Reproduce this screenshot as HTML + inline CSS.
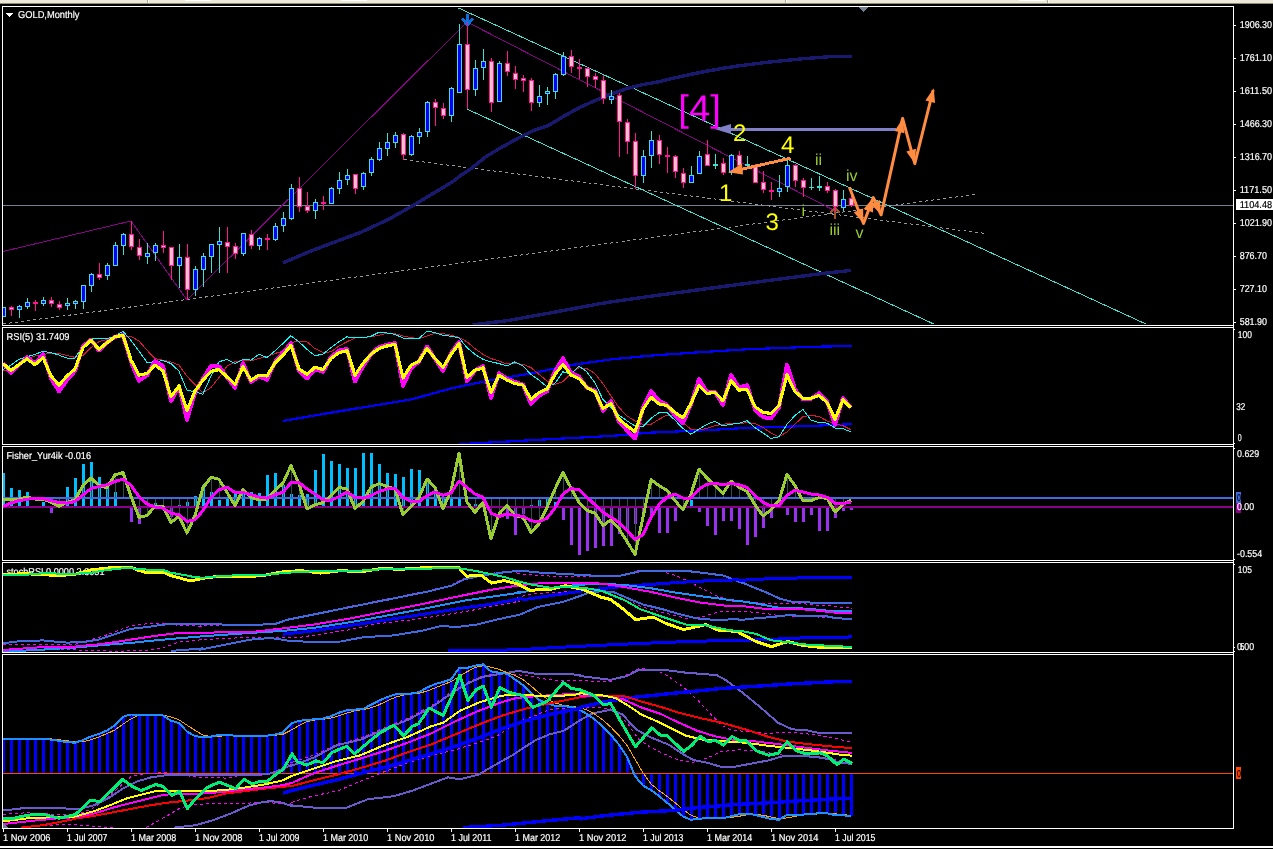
<!DOCTYPE html>
<html><head><meta charset="utf-8"><title>GOLD,Monthly</title>
<style>html,body{margin:0;padding:0;background:#000;overflow:hidden}svg{display:block}text{font-family:"Liberation Sans",sans-serif;white-space:pre;text-rendering:geometricPrecision}</style>
</head><body>
<svg width="1273" height="849" viewBox="0 0 1273 849" style="will-change:transform">
<rect x="0" y="0" width="1273" height="849" fill="#000000"/>
<rect x="0" y="0" width="1273" height="3" fill="#ECE9D8"/>
<rect x="0" y="3" width="1273" height="1" fill="#8f8c7a"/>
<rect x="185" y="0" width="26" height="1" fill="#ffffff"/>
<rect x="341" y="0" width="26" height="1" fill="#ffffff"/>
<rect x="1019" y="0" width="26" height="1" fill="#ffffff"/>
<rect x="147" y="0" width="1" height="3" fill="#aca899"/>
<rect x="148" y="0" width="1" height="3" fill="#ffffff"/>
<rect x="785" y="0" width="1" height="3" fill="#aca899"/>
<rect x="786" y="0" width="1" height="3" fill="#ffffff"/>
<rect x="1047" y="0" width="1" height="3" fill="#aca899"/>
<rect x="1048" y="0" width="1" height="3" fill="#ffffff"/>
<rect x="0" y="846" width="1273" height="2" fill="#ffffff"/>
<defs>
<clipPath id="c1"><rect x="3" y="7" width="1230" height="318"/></clipPath>
<clipPath id="c2"><rect x="3" y="328" width="1230" height="116"/></clipPath>
<clipPath id="c3"><rect x="3" y="447" width="1230" height="113"/></clipPath>
<clipPath id="c4"><rect x="3" y="563" width="1230" height="89"/></clipPath>
<clipPath id="c5"><rect x="3" y="655" width="1230" height="173"/></clipPath>
</defs>
<g clip-path="url(#c1)">
<rect x="3" y="205" width="1230" height="1" fill="#708090"/>
<polyline points="3.0,324.0 977.7,194.1" fill="none" stroke="#989898" stroke-width="1" stroke-linejoin="round" stroke-dasharray="3 3" shape-rendering="crispEdges"/>
<polyline points="404.0,159.5 987.2,233.7" fill="none" stroke="#989898" stroke-width="1" stroke-linejoin="round" stroke-dasharray="3 3" shape-rendering="crispEdges"/>
<polyline points="3.0,251.5 131.0,221.0 187.0,300.0 467.0,22.0 835.0,210.8" fill="none" stroke="#8B008B" stroke-width="1" stroke-linejoin="round" shape-rendering="crispEdges"/>
<polyline points="458.5,8.0 1146.3,324.2" fill="none" stroke="#40E0D0" stroke-width="1" stroke-linejoin="round" shape-rendering="crispEdges"/>
<polyline points="467.5,109.3 934.2,324.2" fill="none" stroke="#40E0D0" stroke-width="1" stroke-linejoin="round" shape-rendering="crispEdges"/>
<polyline points="283.1,262.9 311.4,250.8 342.8,239.0 361.7,231.9 390.0,218.6 413.5,205.2 437.1,191.1 452.8,181.6 460.7,175.4 470.0,169.4 485.7,156.8 501.4,147.4 517.1,138.8 532.8,130.9 548.6,125.4 564.3,116.0 580.0,107.3 595.7,100.3 611.4,94.0 627.1,88.5 642.8,84.6 660.0,81.6 675.7,77.7 691.4,74.2 707.1,71.1 722.8,68.3 738.6,65.9 754.3,63.9 770.0,62.0 785.7,60.4 801.4,58.9 817.1,57.6 832.8,56.5 851.7,56.2" fill="none" stroke="#191970" stroke-width="3.4" stroke-linejoin="round" shape-rendering="crispEdges"/>
<polyline points="472.6,324.8 507.1,320.7 554.3,312.2 601.4,303.4 648.5,296.5 695.7,290.2 742.8,283.9 789.9,277.7 821.4,273.6 851.2,270.4" fill="none" stroke="#191970" stroke-width="3.4" stroke-linejoin="round" shape-rendering="crispEdges"/>
<g fill="none" stroke="#0A6EDC" stroke-width="3" shape-rendering="crispEdges"><path d="M467.5 14V25M462.5 18.5l5 6.5l5-6.5"/></g>
<g fill="none" stroke="#A0522D" stroke-width="2.4" shape-rendering="crispEdges"><path d="M835 208V219M830 213l5-5l5 5"/></g>
<rect x="3" y="307" width="1" height="10" fill="#40E0D0"/>
<rect x="1" y="307" width="5" height="10" fill="#40E0D0"/>
<rect x="2" y="308" width="3" height="8" fill="#0000FF"/>
<rect x="11" y="306" width="1" height="10" fill="#FF1493"/>
<rect x="9" y="307" width="5" height="3" fill="#FF1493"/>
<rect x="10" y="308" width="3" height="1" fill="#FFC0CB"/>
<rect x="19" y="305" width="1" height="13" fill="#40E0D0"/>
<rect x="17" y="306" width="5" height="4" fill="#40E0D0"/>
<rect x="18" y="307" width="3" height="2" fill="#0000FF"/>
<rect x="27" y="298" width="1" height="11" fill="#40E0D0"/>
<rect x="25" y="302" width="5" height="5" fill="#40E0D0"/>
<rect x="26" y="303" width="3" height="3" fill="#0000FF"/>
<rect x="35" y="300" width="1" height="11" fill="#FF1493"/>
<rect x="33" y="302" width="5" height="2" fill="#FF1493"/>
<rect x="43" y="297" width="1" height="9" fill="#40E0D0"/>
<rect x="41" y="300" width="5" height="4" fill="#40E0D0"/>
<rect x="42" y="301" width="3" height="2" fill="#0000FF"/>
<rect x="51" y="297" width="1" height="10" fill="#FF1493"/>
<rect x="49" y="300" width="5" height="4" fill="#FF1493"/>
<rect x="50" y="301" width="3" height="2" fill="#FFC0CB"/>
<rect x="59" y="301" width="1" height="9" fill="#FF1493"/>
<rect x="57" y="304" width="5" height="4" fill="#FF1493"/>
<rect x="58" y="305" width="3" height="2" fill="#FFC0CB"/>
<rect x="67" y="298" width="1" height="12" fill="#40E0D0"/>
<rect x="65" y="303" width="5" height="3" fill="#40E0D0"/>
<rect x="66" y="304" width="3" height="1" fill="#0000FF"/>
<rect x="75" y="300" width="1" height="9" fill="#40E0D0"/>
<rect x="73" y="301" width="5" height="3" fill="#40E0D0"/>
<rect x="74" y="302" width="3" height="1" fill="#0000FF"/>
<rect x="83" y="285" width="1" height="24" fill="#40E0D0"/>
<rect x="81" y="285" width="5" height="17" fill="#40E0D0"/>
<rect x="82" y="286" width="3" height="15" fill="#0000FF"/>
<rect x="91" y="273" width="1" height="19" fill="#40E0D0"/>
<rect x="89" y="274" width="5" height="12" fill="#40E0D0"/>
<rect x="90" y="275" width="3" height="10" fill="#0000FF"/>
<rect x="99" y="263" width="1" height="17" fill="#FF1493"/>
<rect x="97" y="274" width="5" height="4" fill="#FF1493"/>
<rect x="98" y="275" width="3" height="2" fill="#FFC0CB"/>
<rect x="107" y="263" width="1" height="17" fill="#40E0D0"/>
<rect x="105" y="265" width="5" height="11" fill="#40E0D0"/>
<rect x="106" y="266" width="3" height="9" fill="#0000FF"/>
<rect x="115" y="242" width="1" height="24" fill="#40E0D0"/>
<rect x="113" y="245" width="5" height="21" fill="#40E0D0"/>
<rect x="114" y="246" width="3" height="19" fill="#0000FF"/>
<rect x="123" y="233" width="1" height="22" fill="#40E0D0"/>
<rect x="121" y="234" width="5" height="12" fill="#40E0D0"/>
<rect x="122" y="235" width="3" height="10" fill="#0000FF"/>
<rect x="131" y="221" width="1" height="29" fill="#FF1493"/>
<rect x="129" y="234" width="5" height="13" fill="#FF1493"/>
<rect x="130" y="235" width="3" height="11" fill="#FFC0CB"/>
<rect x="139" y="239" width="1" height="21" fill="#FF1493"/>
<rect x="137" y="247" width="5" height="9" fill="#FF1493"/>
<rect x="138" y="248" width="3" height="7" fill="#FFC0CB"/>
<rect x="147" y="243" width="1" height="21" fill="#40E0D0"/>
<rect x="145" y="253" width="5" height="4" fill="#40E0D0"/>
<rect x="146" y="254" width="3" height="2" fill="#0000FF"/>
<rect x="155" y="243" width="1" height="18" fill="#40E0D0"/>
<rect x="153" y="245" width="5" height="8" fill="#40E0D0"/>
<rect x="154" y="246" width="3" height="6" fill="#0000FF"/>
<rect x="163" y="231" width="1" height="22" fill="#FF1493"/>
<rect x="161" y="245" width="5" height="3" fill="#FF1493"/>
<rect x="162" y="246" width="3" height="1" fill="#FFC0CB"/>
<rect x="171" y="247" width="1" height="33" fill="#FF1493"/>
<rect x="169" y="247" width="5" height="19" fill="#FF1493"/>
<rect x="170" y="248" width="3" height="17" fill="#FFC0CB"/>
<rect x="179" y="244" width="1" height="44" fill="#40E0D0"/>
<rect x="177" y="257" width="5" height="9" fill="#40E0D0"/>
<rect x="178" y="258" width="3" height="7" fill="#0000FF"/>
<rect x="187" y="244" width="1" height="56" fill="#FF1493"/>
<rect x="185" y="257" width="5" height="33" fill="#FF1493"/>
<rect x="186" y="258" width="3" height="31" fill="#FFC0CB"/>
<rect x="195" y="266" width="1" height="30" fill="#40E0D0"/>
<rect x="193" y="269" width="5" height="21" fill="#40E0D0"/>
<rect x="194" y="270" width="3" height="19" fill="#0000FF"/>
<rect x="203" y="253" width="1" height="34" fill="#40E0D0"/>
<rect x="201" y="256" width="5" height="14" fill="#40E0D0"/>
<rect x="202" y="257" width="3" height="12" fill="#0000FF"/>
<rect x="211" y="244" width="1" height="29" fill="#40E0D0"/>
<rect x="209" y="244" width="5" height="13" fill="#40E0D0"/>
<rect x="210" y="245" width="3" height="11" fill="#0000FF"/>
<rect x="219" y="227" width="1" height="46" fill="#40E0D0"/>
<rect x="217" y="241" width="5" height="4" fill="#40E0D0"/>
<rect x="218" y="242" width="3" height="2" fill="#0000FF"/>
<rect x="227" y="227" width="1" height="46" fill="#FF1493"/>
<rect x="225" y="242" width="5" height="5" fill="#FF1493"/>
<rect x="226" y="243" width="3" height="3" fill="#FFC0CB"/>
<rect x="235" y="243" width="1" height="16" fill="#FF1493"/>
<rect x="233" y="246" width="5" height="8" fill="#FF1493"/>
<rect x="234" y="247" width="3" height="6" fill="#FFC0CB"/>
<rect x="243" y="233" width="1" height="23" fill="#40E0D0"/>
<rect x="241" y="233" width="5" height="21" fill="#40E0D0"/>
<rect x="242" y="234" width="3" height="19" fill="#0000FF"/>
<rect x="251" y="230" width="1" height="19" fill="#FF1493"/>
<rect x="249" y="234" width="5" height="12" fill="#FF1493"/>
<rect x="250" y="235" width="3" height="10" fill="#FFC0CB"/>
<rect x="259" y="237" width="1" height="13" fill="#40E0D0"/>
<rect x="257" y="238" width="5" height="8" fill="#40E0D0"/>
<rect x="258" y="239" width="3" height="6" fill="#0000FF"/>
<rect x="267" y="234" width="1" height="16" fill="#FF1493"/>
<rect x="265" y="238" width="5" height="2" fill="#FF1493"/>
<rect x="275" y="223" width="1" height="18" fill="#40E0D0"/>
<rect x="273" y="226" width="5" height="14" fill="#40E0D0"/>
<rect x="274" y="227" width="3" height="12" fill="#0000FF"/>
<rect x="283" y="212" width="1" height="20" fill="#40E0D0"/>
<rect x="281" y="218" width="5" height="8" fill="#40E0D0"/>
<rect x="282" y="219" width="3" height="6" fill="#0000FF"/>
<rect x="291" y="184" width="1" height="36" fill="#40E0D0"/>
<rect x="289" y="188" width="5" height="31" fill="#40E0D0"/>
<rect x="290" y="189" width="3" height="29" fill="#0000FF"/>
<rect x="299" y="177" width="1" height="35" fill="#FF1493"/>
<rect x="297" y="188" width="5" height="19" fill="#FF1493"/>
<rect x="298" y="189" width="3" height="17" fill="#FFC0CB"/>
<rect x="307" y="192" width="1" height="21" fill="#FF1493"/>
<rect x="305" y="206" width="5" height="5" fill="#FF1493"/>
<rect x="306" y="207" width="3" height="3" fill="#FFC0CB"/>
<rect x="315" y="199" width="1" height="20" fill="#40E0D0"/>
<rect x="313" y="202" width="5" height="9" fill="#40E0D0"/>
<rect x="314" y="203" width="3" height="7" fill="#0000FF"/>
<rect x="323" y="196" width="1" height="14" fill="#FF1493"/>
<rect x="321" y="202" width="5" height="2" fill="#FF1493"/>
<rect x="331" y="187" width="1" height="17" fill="#40E0D0"/>
<rect x="329" y="188" width="5" height="16" fill="#40E0D0"/>
<rect x="330" y="189" width="3" height="14" fill="#0000FF"/>
<rect x="339" y="172" width="1" height="22" fill="#40E0D0"/>
<rect x="337" y="180" width="5" height="9" fill="#40E0D0"/>
<rect x="338" y="181" width="3" height="7" fill="#0000FF"/>
<rect x="347" y="169" width="1" height="16" fill="#40E0D0"/>
<rect x="345" y="175" width="5" height="5" fill="#40E0D0"/>
<rect x="346" y="176" width="3" height="3" fill="#0000FF"/>
<rect x="355" y="174" width="1" height="20" fill="#FF1493"/>
<rect x="353" y="174" width="5" height="15" fill="#FF1493"/>
<rect x="354" y="175" width="3" height="13" fill="#FFC0CB"/>
<rect x="363" y="172" width="1" height="18" fill="#40E0D0"/>
<rect x="361" y="173" width="5" height="14" fill="#40E0D0"/>
<rect x="362" y="174" width="3" height="12" fill="#0000FF"/>
<rect x="371" y="157" width="1" height="19" fill="#40E0D0"/>
<rect x="369" y="159" width="5" height="14" fill="#40E0D0"/>
<rect x="370" y="160" width="3" height="12" fill="#0000FF"/>
<rect x="379" y="142" width="1" height="19" fill="#40E0D0"/>
<rect x="377" y="148" width="5" height="12" fill="#40E0D0"/>
<rect x="378" y="149" width="3" height="10" fill="#0000FF"/>
<rect x="387" y="133" width="1" height="23" fill="#40E0D0"/>
<rect x="385" y="142" width="5" height="7" fill="#40E0D0"/>
<rect x="386" y="143" width="3" height="5" fill="#0000FF"/>
<rect x="395" y="132" width="1" height="16" fill="#40E0D0"/>
<rect x="393" y="135" width="5" height="8" fill="#40E0D0"/>
<rect x="394" y="136" width="3" height="6" fill="#0000FF"/>
<rect x="403" y="133" width="1" height="27" fill="#FF1493"/>
<rect x="401" y="134" width="5" height="21" fill="#FF1493"/>
<rect x="402" y="135" width="3" height="19" fill="#FFC0CB"/>
<rect x="411" y="135" width="1" height="21" fill="#40E0D0"/>
<rect x="409" y="136" width="5" height="19" fill="#40E0D0"/>
<rect x="410" y="137" width="3" height="17" fill="#0000FF"/>
<rect x="419" y="128" width="1" height="16" fill="#40E0D0"/>
<rect x="417" y="132" width="5" height="5" fill="#40E0D0"/>
<rect x="418" y="133" width="3" height="3" fill="#0000FF"/>
<rect x="427" y="101" width="1" height="36" fill="#40E0D0"/>
<rect x="425" y="102" width="5" height="30" fill="#40E0D0"/>
<rect x="426" y="103" width="3" height="28" fill="#0000FF"/>
<rect x="435" y="99" width="1" height="27" fill="#FF1493"/>
<rect x="433" y="102" width="5" height="6" fill="#FF1493"/>
<rect x="434" y="103" width="3" height="4" fill="#FFC0CB"/>
<rect x="443" y="103" width="1" height="16" fill="#FF1493"/>
<rect x="441" y="108" width="5" height="8" fill="#FF1493"/>
<rect x="442" y="109" width="3" height="6" fill="#FFC0CB"/>
<rect x="451" y="87" width="1" height="35" fill="#40E0D0"/>
<rect x="449" y="88" width="5" height="28" fill="#40E0D0"/>
<rect x="450" y="89" width="3" height="26" fill="#0000FF"/>
<rect x="459" y="24" width="1" height="69" fill="#40E0D0"/>
<rect x="457" y="44" width="5" height="49" fill="#40E0D0"/>
<rect x="458" y="45" width="3" height="47" fill="#0000FF"/>
<rect x="467" y="22" width="1" height="87" fill="#FF1493"/>
<rect x="465" y="44" width="5" height="46" fill="#FF1493"/>
<rect x="466" y="45" width="3" height="44" fill="#FFC0CB"/>
<rect x="475" y="60" width="1" height="36" fill="#40E0D0"/>
<rect x="473" y="68" width="5" height="22" fill="#40E0D0"/>
<rect x="474" y="69" width="3" height="20" fill="#0000FF"/>
<rect x="483" y="49" width="1" height="31" fill="#40E0D0"/>
<rect x="481" y="61" width="5" height="7" fill="#40E0D0"/>
<rect x="482" y="62" width="3" height="5" fill="#0000FF"/>
<rect x="491" y="58" width="1" height="54" fill="#FF1493"/>
<rect x="489" y="61" width="5" height="42" fill="#FF1493"/>
<rect x="490" y="62" width="3" height="40" fill="#FFC0CB"/>
<rect x="499" y="61" width="1" height="41" fill="#40E0D0"/>
<rect x="497" y="63" width="5" height="39" fill="#40E0D0"/>
<rect x="498" y="64" width="3" height="37" fill="#0000FF"/>
<rect x="507" y="51" width="1" height="25" fill="#FF1493"/>
<rect x="505" y="63" width="5" height="9" fill="#FF1493"/>
<rect x="506" y="64" width="3" height="7" fill="#FFC0CB"/>
<rect x="515" y="66" width="1" height="23" fill="#FF1493"/>
<rect x="513" y="73" width="5" height="7" fill="#FF1493"/>
<rect x="514" y="74" width="3" height="5" fill="#FFC0CB"/>
<rect x="523" y="75" width="1" height="17" fill="#FF1493"/>
<rect x="521" y="78" width="5" height="3" fill="#FF1493"/>
<rect x="522" y="79" width="3" height="1" fill="#FFC0CB"/>
<rect x="531" y="78" width="1" height="33" fill="#FF1493"/>
<rect x="529" y="80" width="5" height="23" fill="#FF1493"/>
<rect x="530" y="81" width="3" height="21" fill="#FFC0CB"/>
<rect x="539" y="85" width="1" height="22" fill="#40E0D0"/>
<rect x="537" y="96" width="5" height="7" fill="#40E0D0"/>
<rect x="538" y="97" width="3" height="5" fill="#0000FF"/>
<rect x="547" y="87" width="1" height="18" fill="#40E0D0"/>
<rect x="545" y="91" width="5" height="3" fill="#40E0D0"/>
<rect x="546" y="92" width="3" height="1" fill="#0000FF"/>
<rect x="555" y="73" width="1" height="26" fill="#40E0D0"/>
<rect x="553" y="74" width="5" height="18" fill="#40E0D0"/>
<rect x="554" y="75" width="3" height="16" fill="#0000FF"/>
<rect x="563" y="52" width="1" height="24" fill="#40E0D0"/>
<rect x="561" y="56" width="5" height="19" fill="#40E0D0"/>
<rect x="562" y="57" width="3" height="17" fill="#0000FF"/>
<rect x="571" y="50" width="1" height="23" fill="#FF1493"/>
<rect x="569" y="56" width="5" height="11" fill="#FF1493"/>
<rect x="570" y="57" width="3" height="9" fill="#FFC0CB"/>
<rect x="579" y="59" width="1" height="20" fill="#FF1493"/>
<rect x="577" y="67" width="5" height="2" fill="#FF1493"/>
<rect x="587" y="67" width="1" height="20" fill="#FF1493"/>
<rect x="585" y="68" width="5" height="9" fill="#FF1493"/>
<rect x="586" y="69" width="3" height="7" fill="#FFC0CB"/>
<rect x="595" y="73" width="1" height="15" fill="#FF1493"/>
<rect x="593" y="76" width="5" height="4" fill="#FF1493"/>
<rect x="594" y="77" width="3" height="2" fill="#FFC0CB"/>
<rect x="603" y="75" width="1" height="29" fill="#FF1493"/>
<rect x="601" y="80" width="5" height="19" fill="#FF1493"/>
<rect x="602" y="81" width="3" height="17" fill="#FFC0CB"/>
<rect x="611" y="90" width="1" height="14" fill="#40E0D0"/>
<rect x="609" y="96" width="5" height="4" fill="#40E0D0"/>
<rect x="610" y="97" width="3" height="2" fill="#0000FF"/>
<rect x="619" y="93" width="1" height="64" fill="#FF1493"/>
<rect x="617" y="95" width="5" height="27" fill="#FF1493"/>
<rect x="618" y="96" width="3" height="25" fill="#FFC0CB"/>
<rect x="627" y="119" width="1" height="35" fill="#FF1493"/>
<rect x="625" y="122" width="5" height="20" fill="#FF1493"/>
<rect x="626" y="123" width="3" height="18" fill="#FFC0CB"/>
<rect x="635" y="133" width="1" height="56" fill="#FF1493"/>
<rect x="633" y="141" width="5" height="35" fill="#FF1493"/>
<rect x="634" y="142" width="3" height="33" fill="#FFC0CB"/>
<rect x="643" y="150" width="1" height="33" fill="#40E0D0"/>
<rect x="641" y="156" width="5" height="20" fill="#40E0D0"/>
<rect x="642" y="157" width="3" height="18" fill="#0000FF"/>
<rect x="651" y="131" width="1" height="37" fill="#40E0D0"/>
<rect x="649" y="140" width="5" height="16" fill="#40E0D0"/>
<rect x="650" y="141" width="3" height="14" fill="#0000FF"/>
<rect x="659" y="135" width="1" height="29" fill="#FF1493"/>
<rect x="657" y="140" width="5" height="15" fill="#FF1493"/>
<rect x="658" y="141" width="3" height="13" fill="#FFC0CB"/>
<rect x="667" y="147" width="1" height="26" fill="#FF1493"/>
<rect x="665" y="155" width="5" height="2" fill="#FF1493"/>
<rect x="675" y="155" width="1" height="23" fill="#FF1493"/>
<rect x="673" y="156" width="5" height="16" fill="#FF1493"/>
<rect x="674" y="157" width="3" height="14" fill="#FFC0CB"/>
<rect x="683" y="168" width="1" height="20" fill="#FF1493"/>
<rect x="681" y="173" width="5" height="10" fill="#FF1493"/>
<rect x="682" y="174" width="3" height="8" fill="#FFC0CB"/>
<rect x="691" y="166" width="1" height="17" fill="#40E0D0"/>
<rect x="689" y="175" width="5" height="8" fill="#40E0D0"/>
<rect x="690" y="176" width="3" height="6" fill="#0000FF"/>
<rect x="699" y="151" width="1" height="23" fill="#40E0D0"/>
<rect x="697" y="156" width="5" height="18" fill="#40E0D0"/>
<rect x="698" y="157" width="3" height="16" fill="#0000FF"/>
<rect x="707" y="140" width="1" height="26" fill="#FF1493"/>
<rect x="705" y="154" width="5" height="12" fill="#FF1493"/>
<rect x="706" y="155" width="3" height="10" fill="#FFC0CB"/>
<rect x="715" y="154" width="1" height="15" fill="#40E0D0"/>
<rect x="713" y="164" width="5" height="2" fill="#40E0D0"/>
<rect x="723" y="158" width="1" height="17" fill="#FF1493"/>
<rect x="721" y="163" width="5" height="10" fill="#FF1493"/>
<rect x="722" y="164" width="3" height="8" fill="#FFC0CB"/>
<rect x="731" y="154" width="1" height="21" fill="#40E0D0"/>
<rect x="729" y="155" width="5" height="18" fill="#40E0D0"/>
<rect x="730" y="156" width="3" height="16" fill="#0000FF"/>
<rect x="739" y="151" width="1" height="15" fill="#FF1493"/>
<rect x="737" y="155" width="5" height="11" fill="#FF1493"/>
<rect x="738" y="156" width="3" height="9" fill="#FFC0CB"/>
<rect x="747" y="156" width="1" height="11" fill="#40E0D0"/>
<rect x="745" y="164" width="5" height="2" fill="#40E0D0"/>
<rect x="755" y="164" width="1" height="19" fill="#FF1493"/>
<rect x="753" y="165" width="5" height="18" fill="#FF1493"/>
<rect x="754" y="166" width="3" height="16" fill="#FFC0CB"/>
<rect x="763" y="171" width="1" height="22" fill="#FF1493"/>
<rect x="761" y="182" width="5" height="8" fill="#FF1493"/>
<rect x="762" y="183" width="3" height="6" fill="#FFC0CB"/>
<rect x="771" y="182" width="1" height="18" fill="#FF1493"/>
<rect x="769" y="190" width="5" height="2" fill="#FF1493"/>
<rect x="779" y="175" width="1" height="22" fill="#40E0D0"/>
<rect x="777" y="188" width="5" height="4" fill="#40E0D0"/>
<rect x="778" y="189" width="3" height="2" fill="#0000FF"/>
<rect x="787" y="160" width="1" height="32" fill="#40E0D0"/>
<rect x="785" y="165" width="5" height="22" fill="#40E0D0"/>
<rect x="786" y="166" width="3" height="20" fill="#0000FF"/>
<rect x="795" y="164" width="1" height="23" fill="#FF1493"/>
<rect x="793" y="165" width="5" height="16" fill="#FF1493"/>
<rect x="794" y="166" width="3" height="14" fill="#FFC0CB"/>
<rect x="803" y="178" width="1" height="19" fill="#FF1493"/>
<rect x="801" y="180" width="5" height="8" fill="#FF1493"/>
<rect x="802" y="181" width="3" height="6" fill="#FFC0CB"/>
<rect x="811" y="178" width="1" height="12" fill="#40E0D0"/>
<rect x="809" y="187" width="5" height="1" fill="#40E0D0"/>
<rect x="819" y="176" width="1" height="15" fill="#40E0D0"/>
<rect x="817" y="186" width="5" height="2" fill="#40E0D0"/>
<rect x="827" y="182" width="1" height="11" fill="#FF1493"/>
<rect x="825" y="186" width="5" height="5" fill="#FF1493"/>
<rect x="826" y="187" width="3" height="3" fill="#FFC0CB"/>
<rect x="835" y="189" width="1" height="23" fill="#FF1493"/>
<rect x="833" y="190" width="5" height="17" fill="#FF1493"/>
<rect x="834" y="191" width="3" height="15" fill="#FFC0CB"/>
<rect x="843" y="190" width="1" height="21" fill="#40E0D0"/>
<rect x="841" y="199" width="5" height="9" fill="#40E0D0"/>
<rect x="842" y="200" width="3" height="7" fill="#0000FF"/>
<rect x="851" y="195" width="1" height="12" fill="#FF1493"/>
<rect x="849" y="198" width="5" height="8" fill="#FF1493"/>
<rect x="850" y="199" width="3" height="6" fill="#FFC0CB"/>
<rect x="728" y="128" width="168" height="3" fill="#8080C8"/>
<polygon points="714.5,129 731,124 731,134" fill="#8080C8"/>
<text x="678.3" y="121" font-size="37" fill="#FF00FF" text-anchor="start" textLength="42.5" lengthAdjust="spacingAndGlyphs">[4]</text>
<text x="719" y="201" font-size="24" fill="#FFFF00" text-anchor="start">1</text>
<text x="733" y="141" font-size="24" fill="#FFFF00" text-anchor="start">2</text>
<text x="765.5" y="230" font-size="24" fill="#FFFF00" text-anchor="start">3</text>
<text x="781" y="153" font-size="24" fill="#FFFF00" text-anchor="start">4</text>
<text x="815" y="165" font-size="16" fill="#9ACD32" text-anchor="start">ii</text>
<text x="846" y="181" font-size="16" fill="#9ACD32" text-anchor="start">iv</text>
<text x="801.5" y="216" font-size="16" fill="#9ACD32" text-anchor="start">i</text>
<text x="829.5" y="235" font-size="16" fill="#9ACD32" text-anchor="start">iii</text>
<text x="855.5" y="238" font-size="16" fill="#9ACD32" text-anchor="start">v</text>
<polyline points="790.5,158.2 734.0,171.0" fill="none" stroke="#FF8C40" stroke-width="3" stroke-linejoin="round" shape-rendering="crispEdges"/>
<polygon points="728,172.3 742,163.5 743,174.5" fill="#FF8C40"/>
<polyline points="849.4,187.3 863.5,223.5 873.3,197.6 881.1,214.8 902.6,118.4 914.8,163.6 933.2,90.0" fill="none" stroke="#FF8C40" stroke-width="3" stroke-linejoin="round"/>
<polygon points="863.5,223.5 853.8,212.3 863.1,208.6" fill="#FF8C40"/>
<polygon points="873.3,197.6 873.0,212.5 863.7,208.9" fill="#FF8C40"/>
<polygon points="881.1,214.8 870.8,204.1 879.9,200.0" fill="#FF8C40"/>
<polygon points="902.6,118.4 904.4,133.2 894.7,131.0" fill="#FF8C40"/>
<polygon points="914.8,163.6 906.3,151.4 916.0,148.8" fill="#FF8C40"/>
<polygon points="933.7,88.2 935.1,103.0 925.4,100.6" fill="#FF8C40"/>
</g>
<g clip-path="url(#c2)">
<text x="6.5" y="340" font-size="10" fill="#fff" text-anchor="start" textLength="63" lengthAdjust="spacingAndGlyphs" stroke="#fff" stroke-width="0.2">RSI(5) 31.7409</text>
<polyline points="283.3,420.9 333.2,412.3 412.0,399.3 451.0,388.4 490.9,380.1 530.9,373.5 570.9,365.1 612.0,359.3 651.0,355.6 698.9,352.3 746.9,349.3 812.0,346.8 852.0,346.0" fill="none" stroke="#0000FF" stroke-width="2.2" stroke-linejoin="round" shape-rendering="crispEdges"/>
<polyline points="459.1,444.2 533.2,440.1 612.0,435.9 651.0,432.6 698.9,430.6 746.9,427.9 812.0,425.9 852.0,424.2" fill="none" stroke="#0000FF" stroke-width="2.2" stroke-linejoin="round" shape-rendering="crispEdges"/>
<polyline points="3.0,370.6 11.0,369.6 19.0,364.0 27.0,358.5 35.0,356.0 43.0,354.3 51.0,353.5 59.0,353.5 66.9,355.6 74.9,357.3 82.9,355.6 90.9,347.6 98.9,341.8 106.9,339.3 114.9,337.7 122.9,336.8 130.9,336.3 138.9,341.0 146.9,350.1 154.9,358.5 162.9,360.1 170.9,361.8 178.9,365.1 186.8,376.0 194.8,384.3 202.8,392.6 211.0,387.6 219.0,377.6 227.0,366.0 235.0,361.8 243.0,360.1 251.0,361.0 259.0,358.5 266.9,356.8 274.9,353.5 282.9,351.0 290.9,342.7 298.9,341.0 306.9,341.8 314.9,348.5 322.9,352.6 330.9,351.8 338.9,346.0 346.9,341.8 354.9,338.0 362.9,337.3 370.9,336.8 378.9,335.2 386.8,333.5 394.8,333.5 402.8,336.0 411.0,337.7 419.0,338.5 427.0,336.0 435.0,333.5 443.0,333.5 451.0,335.2 459.0,337.3 466.9,341.8 474.9,348.5 482.9,354.3 490.9,358.5 498.9,361.0 506.9,364.0 514.9,363.5 522.9,364.3 530.9,367.6 538.9,374.3 546.9,381.0 554.9,384.3 562.9,381.8 570.9,373.5 578.9,367.6 586.8,368.5 594.8,373.5 602.8,383.5 611.0,395.9 619.0,407.6 627.0,415.9 635.0,420.9 643.0,424.3 651.0,424.3 659.0,419.3 666.9,415.1 674.9,415.9 682.9,422.6 690.9,429.2 698.9,430.1 706.9,428.4 714.9,425.6 722.9,424.3 730.9,423.4 738.9,423.9 746.9,422.6 754.9,423.4 763.0,427.5 771.0,433.0 779.0,436.8 787.1,431.9 795.0,424.2 803.0,416.5 811.0,415.4 819.1,416.5 827.0,420.9 835.0,423.6 843.0,425.8 850.9,429.7" fill="none" stroke="#DC143C" stroke-width="1" stroke-linejoin="round" shape-rendering="crispEdges"/>
<polyline points="3.0,369.6 11.0,365.1 19.0,359.3 27.0,356.8 35.0,354.3 43.0,351.3 51.0,352.6 59.0,355.1 66.9,358.1 74.9,358.1 82.9,346.0 90.9,338.5 98.9,338.5 106.9,339.0 114.9,336.0 122.9,331.3 130.9,340.2 138.9,351.0 146.9,362.3 154.9,361.8 162.9,360.6 170.9,363.5 178.9,371.0 186.8,390.1 194.8,391.8 202.8,394.3 211.0,376.0 219.0,361.8 227.0,359.3 235.0,363.5 243.0,359.3 251.0,360.1 259.0,354.3 266.9,357.6 274.9,351.0 282.9,343.5 290.9,335.7 298.9,341.8 306.9,349.3 314.9,355.6 322.9,354.3 330.9,347.6 338.9,341.8 346.9,336.8 354.9,338.0 362.9,337.7 370.9,336.3 378.9,332.3 386.8,333.0 394.8,334.3 402.8,338.0 411.0,338.5 419.0,338.5 427.0,331.0 435.0,332.7 443.0,335.2 451.0,336.3 459.0,337.7 466.9,347.6 474.9,354.3 482.9,359.3 490.9,361.8 498.9,363.5 506.9,366.0 514.9,361.8 522.9,366.0 530.9,374.3 538.9,380.1 546.9,386.8 554.9,383.5 562.9,371.8 570.9,374.3 578.9,366.0 586.8,371.8 594.8,382.6 602.8,399.3 611.0,407.6 619.0,415.1 627.0,420.9 635.0,425.9 643.0,426.7 651.0,418.4 659.0,412.6 666.9,412.6 674.9,420.1 682.9,428.4 690.9,434.2 698.9,429.2 706.9,424.3 714.9,421.3 722.9,425.9 730.9,424.3 738.9,423.4 746.9,420.6 754.9,427.6 763.0,433.0 771.0,438.5 779.0,436.8 787.1,424.2 795.0,415.4 803.0,409.3 811.0,420.3 819.1,422.5 827.0,423.1 835.0,428.0 843.0,428.6 850.9,431.9" fill="none" stroke="#00FFFF" stroke-width="1" stroke-linejoin="round" shape-rendering="crispEdges"/>
<polyline points="3.0,363.2 11.0,372.8 19.0,365.1 27.0,357.2 35.0,363.3 43.0,354.5 51.0,378.3 59.0,391.3 67.0,380.1 75.0,371.0 83.0,346.1 91.0,339.8 99.0,350.5 107.0,342.6 115.0,336.8 123.0,335.2 131.0,361.8 139.0,380.7 147.0,375.4 155.0,361.2 163.0,366.1 171.0,401.1 179.0,386.1 187.0,419.6 195.0,392.6 203.0,378.6 211.0,366.2 219.0,366.4 227.0,377.2 235.0,387.7 243.0,363.3 251.0,382.1 259.0,376.4 267.0,379.6 275.0,361.9 283.0,352.6 291.0,343.3 299.0,371.0 307.0,378.5 315.0,369.1 323.0,371.9 331.0,356.9 339.0,350.6 347.0,348.8 355.0,381.4 363.0,366.3 371.0,354.2 379.0,347.0 387.0,344.8 395.0,343.2 403.0,385.9 411.0,368.3 419.0,361.6 427.0,346.5 435.0,359.0 443.0,370.8 451.0,353.0 459.0,342.0 467.0,381.2 475.0,370.6 483.0,366.1 491.0,397.8 499.0,373.4 507.0,378.7 515.0,382.1 523.0,384.6 531.0,404.0 539.0,395.7 547.0,391.2 555.0,371.1 563.0,358.4 571.0,373.0 579.0,376.7 587.0,387.8 595.0,390.5 603.0,410.6 611.0,401.0 619.0,421.6 627.0,430.3 635.0,438.4 643.0,407.6 651.0,391.0 659.0,400.8 667.0,405.0 675.0,415.8 683.0,423.2 691.0,404.1 699.0,379.2 707.0,392.2 715.0,392.3 723.0,404.7 731.0,375.2 739.0,387.6 747.0,385.2 755.0,409.4 763.0,417.1 771.0,418.5 779.0,407.3 787.0,364.8 795.0,389.3 803.0,399.4 811.0,398.7 819.0,393.4 827.0,401.8 835.0,424.7 843.0,397.9 851.0,407.9" fill="none" stroke="#FF00FF" stroke-width="4" stroke-linejoin="round" shape-rendering="crispEdges"/>
<polyline points="3.0,363.5 11.0,370.6 19.0,364.6 27.0,359.0 35.0,364.6 43.0,357.6 51.0,376.0 59.0,385.1 67.0,376.0 75.0,369.0 83.0,347.6 91.0,340.2 99.0,349.3 107.0,342.7 115.0,336.8 123.0,335.2 131.0,360.1 139.0,375.1 147.0,373.5 155.0,365.1 163.0,371.0 171.0,396.8 179.0,386.0 187.0,410.9 195.0,391.0 203.0,380.1 211.0,371.3 219.0,369.6 227.0,376.8 235.0,384.3 243.0,366.8 251.0,380.1 259.0,375.1 267.0,376.0 275.0,363.0 283.0,355.1 291.0,345.2 299.0,369.0 307.0,374.3 315.0,367.3 323.0,369.6 331.0,358.5 339.0,352.6 347.0,350.6 355.0,375.1 363.0,363.5 371.0,354.3 379.0,348.5 387.0,346.0 395.0,344.3 403.0,378.0 411.0,365.4 419.0,361.3 427.0,348.5 435.0,358.5 443.0,367.6 451.0,354.3 459.0,343.5 467.0,377.6 475.0,370.1 483.0,368.0 491.0,392.6 499.0,375.1 507.0,380.1 515.0,383.5 523.0,385.1 531.0,399.3 539.0,392.6 547.0,389.0 555.0,374.3 563.0,364.3 571.0,375.1 579.0,378.5 587.0,387.6 595.0,391.8 603.0,408.4 611.0,403.6 619.0,419.3 627.0,425.9 635.0,431.7 643.0,409.3 651.0,397.3 659.0,403.9 667.0,405.6 675.0,412.6 683.0,417.9 691.0,403.4 699.0,385.6 707.0,393.4 715.0,392.3 723.0,400.9 731.0,380.6 739.0,390.1 747.0,389.3 755.0,406.8 763.0,412.3 771.0,413.4 779.0,405.5 787.0,375.0 795.0,391.5 803.0,398.3 811.0,398.3 819.0,395.6 827.0,402.2 835.0,419.2 843.0,400.0 851.0,407.7" fill="none" stroke="#FFFF00" stroke-width="3.2" stroke-linejoin="round" shape-rendering="crispEdges"/>
</g>
<g clip-path="url(#c3)">
<text x="6.5" y="459" font-size="10" fill="#fff" text-anchor="start" textLength="84.5" lengthAdjust="spacingAndGlyphs" stroke="#fff" stroke-width="0.2">Fisher_Yur4ik -0.016</text>
<rect x="2" y="473" width="3" height="34" fill="#00BFFF"/>
<rect x="10" y="488" width="3" height="19" fill="#00BFFF"/>
<rect x="18" y="490" width="3" height="17" fill="#00BFFF"/>
<rect x="26" y="492" width="3" height="15" fill="#00BFFF"/>
<rect x="42" y="502" width="3" height="5" fill="#00BFFF"/>
<rect x="50" y="507" width="3" height="6" fill="#9A30F0"/>
<rect x="66" y="487" width="3" height="20" fill="#00BFFF"/>
<rect x="74" y="478" width="3" height="29" fill="#00BFFF"/>
<rect x="82" y="464" width="3" height="43" fill="#00BFFF"/>
<rect x="90" y="462" width="3" height="45" fill="#00BFFF"/>
<rect x="98" y="477" width="3" height="30" fill="#00BFFF"/>
<rect x="106" y="488" width="3" height="19" fill="#00BFFF"/>
<rect x="114" y="492" width="3" height="15" fill="#00BFFF"/>
<rect x="130" y="507" width="3" height="15" fill="#9A30F0"/>
<rect x="138" y="507" width="3" height="17" fill="#9A30F0"/>
<rect x="154" y="503" width="3" height="4" fill="#00BFFF"/>
<rect x="170" y="507" width="3" height="10" fill="#9A30F0"/>
<rect x="178" y="505" width="3" height="2" fill="#00BFFF"/>
<rect x="186" y="502" width="3" height="5" fill="#00BFFF"/>
<rect x="194" y="496" width="3" height="11" fill="#00BFFF"/>
<rect x="202" y="485" width="3" height="22" fill="#00BFFF"/>
<rect x="210" y="492" width="3" height="15" fill="#00BFFF"/>
<rect x="218" y="500" width="3" height="7" fill="#00BFFF"/>
<rect x="226" y="497" width="3" height="10" fill="#00BFFF"/>
<rect x="234" y="494" width="3" height="13" fill="#00BFFF"/>
<rect x="242" y="494" width="3" height="13" fill="#00BFFF"/>
<rect x="250" y="492" width="3" height="15" fill="#00BFFF"/>
<rect x="258" y="493" width="3" height="14" fill="#00BFFF"/>
<rect x="266" y="475" width="3" height="32" fill="#00BFFF"/>
<rect x="274" y="473" width="3" height="34" fill="#00BFFF"/>
<rect x="282" y="485" width="3" height="22" fill="#00BFFF"/>
<rect x="290" y="494" width="3" height="13" fill="#00BFFF"/>
<rect x="298" y="495" width="3" height="12" fill="#00BFFF"/>
<rect x="306" y="494" width="3" height="13" fill="#00BFFF"/>
<rect x="314" y="470" width="3" height="37" fill="#00BFFF"/>
<rect x="322" y="454" width="3" height="53" fill="#00BFFF"/>
<rect x="330" y="461" width="3" height="46" fill="#00BFFF"/>
<rect x="338" y="464" width="3" height="43" fill="#00BFFF"/>
<rect x="346" y="468" width="3" height="39" fill="#00BFFF"/>
<rect x="354" y="468" width="3" height="39" fill="#00BFFF"/>
<rect x="362" y="453" width="3" height="54" fill="#00BFFF"/>
<rect x="370" y="453" width="3" height="54" fill="#00BFFF"/>
<rect x="378" y="464" width="3" height="43" fill="#00BFFF"/>
<rect x="386" y="473" width="3" height="34" fill="#00BFFF"/>
<rect x="394" y="474" width="3" height="33" fill="#00BFFF"/>
<rect x="402" y="477" width="3" height="30" fill="#00BFFF"/>
<rect x="410" y="469" width="3" height="38" fill="#00BFFF"/>
<rect x="418" y="470" width="3" height="37" fill="#00BFFF"/>
<rect x="426" y="482" width="3" height="25" fill="#00BFFF"/>
<rect x="434" y="489" width="3" height="18" fill="#00BFFF"/>
<rect x="442" y="498" width="3" height="9" fill="#00BFFF"/>
<rect x="450" y="498" width="3" height="9" fill="#00BFFF"/>
<rect x="458" y="498" width="3" height="9" fill="#00BFFF"/>
<rect x="474" y="504" width="3" height="3" fill="#00BFFF"/>
<rect x="506" y="507" width="3" height="12" fill="#9A30F0"/>
<rect x="514" y="507" width="3" height="28" fill="#9A30F0"/>
<rect x="522" y="507" width="3" height="7" fill="#9A30F0"/>
<rect x="530" y="505" width="3" height="2" fill="#00BFFF"/>
<rect x="538" y="500" width="3" height="7" fill="#00BFFF"/>
<rect x="546" y="499" width="3" height="8" fill="#00BFFF"/>
<rect x="554" y="502" width="3" height="5" fill="#00BFFF"/>
<rect x="562" y="507" width="3" height="13" fill="#9A30F0"/>
<rect x="570" y="507" width="3" height="38" fill="#9A30F0"/>
<rect x="578" y="507" width="3" height="48" fill="#9A30F0"/>
<rect x="586" y="507" width="3" height="44" fill="#9A30F0"/>
<rect x="594" y="507" width="3" height="41" fill="#9A30F0"/>
<rect x="602" y="507" width="3" height="39" fill="#9A30F0"/>
<rect x="610" y="507" width="3" height="39" fill="#9A30F0"/>
<rect x="618" y="507" width="3" height="27" fill="#9A30F0"/>
<rect x="626" y="507" width="3" height="24" fill="#9A30F0"/>
<rect x="634" y="507" width="3" height="17" fill="#9A30F0"/>
<rect x="642" y="507" width="3" height="10" fill="#9A30F0"/>
<rect x="650" y="507" width="3" height="9" fill="#9A30F0"/>
<rect x="658" y="507" width="3" height="26" fill="#9A30F0"/>
<rect x="666" y="507" width="3" height="26" fill="#9A30F0"/>
<rect x="674" y="507" width="3" height="14" fill="#9A30F0"/>
<rect x="690" y="500" width="3" height="7" fill="#00BFFF"/>
<rect x="698" y="507" width="3" height="5" fill="#9A30F0"/>
<rect x="706" y="507" width="3" height="19" fill="#9A30F0"/>
<rect x="714" y="507" width="3" height="28" fill="#9A30F0"/>
<rect x="722" y="507" width="3" height="14" fill="#9A30F0"/>
<rect x="730" y="507" width="3" height="14" fill="#9A30F0"/>
<rect x="738" y="507" width="3" height="22" fill="#9A30F0"/>
<rect x="746" y="507" width="3" height="38" fill="#9A30F0"/>
<rect x="754" y="507" width="3" height="30" fill="#9A30F0"/>
<rect x="762" y="507" width="3" height="21" fill="#9A30F0"/>
<rect x="770" y="507" width="3" height="11" fill="#9A30F0"/>
<rect x="786" y="507" width="3" height="8" fill="#9A30F0"/>
<rect x="794" y="507" width="3" height="15" fill="#9A30F0"/>
<rect x="802" y="507" width="3" height="15" fill="#9A30F0"/>
<rect x="810" y="507" width="3" height="8" fill="#9A30F0"/>
<rect x="818" y="507" width="3" height="24" fill="#9A30F0"/>
<rect x="826" y="507" width="3" height="24" fill="#9A30F0"/>
<rect x="834" y="507" width="3" height="11" fill="#9A30F0"/>
<rect x="842" y="507" width="3" height="4" fill="#9A30F0"/>
<rect x="850" y="507" width="3" height="3" fill="#9A30F0"/>
<rect x="51" y="498" width="1" height="5" fill="#2F4F4F"/>
<rect x="59" y="498" width="1" height="9" fill="#2F4F4F"/>
<rect x="67" y="498" width="1" height="6" fill="#2F4F4F"/>
<rect x="83" y="486" width="1" height="13" fill="#2F4F4F"/>
<rect x="91" y="478" width="1" height="21" fill="#2F4F4F"/>
<rect x="99" y="486" width="1" height="13" fill="#2F4F4F"/>
<rect x="107" y="488" width="1" height="11" fill="#2F4F4F"/>
<rect x="115" y="475" width="1" height="24" fill="#2F4F4F"/>
<rect x="123" y="473" width="1" height="26" fill="#2F4F4F"/>
<rect x="139" y="498" width="1" height="20" fill="#2F4F4F"/>
<rect x="147" y="498" width="1" height="19" fill="#2F4F4F"/>
<rect x="155" y="498" width="1" height="9" fill="#2F4F4F"/>
<rect x="163" y="498" width="1" height="9" fill="#2F4F4F"/>
<rect x="171" y="498" width="1" height="25" fill="#2F4F4F"/>
<rect x="179" y="498" width="1" height="19" fill="#2F4F4F"/>
<rect x="187" y="498" width="1" height="36" fill="#2F4F4F"/>
<rect x="195" y="498" width="1" height="19" fill="#2F4F4F"/>
<rect x="203" y="488" width="1" height="11" fill="#2F4F4F"/>
<rect x="211" y="477" width="1" height="22" fill="#2F4F4F"/>
<rect x="219" y="479" width="1" height="20" fill="#2F4F4F"/>
<rect x="227" y="492" width="1" height="7" fill="#2F4F4F"/>
<rect x="235" y="498" width="1" height="9" fill="#2F4F4F"/>
<rect x="243" y="490" width="1" height="9" fill="#2F4F4F"/>
<rect x="275" y="491" width="1" height="8" fill="#2F4F4F"/>
<rect x="283" y="483" width="1" height="16" fill="#2F4F4F"/>
<rect x="291" y="466" width="1" height="33" fill="#2F4F4F"/>
<rect x="299" y="484" width="1" height="15" fill="#2F4F4F"/>
<rect x="307" y="498" width="1" height="12" fill="#2F4F4F"/>
<rect x="315" y="498" width="1" height="8" fill="#2F4F4F"/>
<rect x="323" y="498" width="1" height="6" fill="#2F4F4F"/>
<rect x="339" y="487" width="1" height="12" fill="#2F4F4F"/>
<rect x="347" y="489" width="1" height="10" fill="#2F4F4F"/>
<rect x="355" y="498" width="1" height="12" fill="#2F4F4F"/>
<rect x="363" y="498" width="1" height="5" fill="#2F4F4F"/>
<rect x="371" y="487" width="1" height="12" fill="#2F4F4F"/>
<rect x="379" y="484" width="1" height="15" fill="#2F4F4F"/>
<rect x="387" y="486" width="1" height="13" fill="#2F4F4F"/>
<rect x="395" y="489" width="1" height="10" fill="#2F4F4F"/>
<rect x="403" y="498" width="1" height="18" fill="#2F4F4F"/>
<rect x="411" y="498" width="1" height="9" fill="#2F4F4F"/>
<rect x="427" y="479" width="1" height="20" fill="#2F4F4F"/>
<rect x="435" y="487" width="1" height="12" fill="#2F4F4F"/>
<rect x="443" y="498" width="1" height="12" fill="#2F4F4F"/>
<rect x="451" y="491" width="1" height="8" fill="#2F4F4F"/>
<rect x="459" y="453" width="1" height="46" fill="#2F4F4F"/>
<rect x="467" y="498" width="1" height="5" fill="#2F4F4F"/>
<rect x="475" y="498" width="1" height="15" fill="#2F4F4F"/>
<rect x="483" y="498" width="1" height="5" fill="#2F4F4F"/>
<rect x="491" y="498" width="1" height="42" fill="#2F4F4F"/>
<rect x="499" y="498" width="1" height="17" fill="#2F4F4F"/>
<rect x="507" y="498" width="1" height="9" fill="#2F4F4F"/>
<rect x="515" y="498" width="1" height="19" fill="#2F4F4F"/>
<rect x="523" y="498" width="1" height="20" fill="#2F4F4F"/>
<rect x="531" y="498" width="1" height="35" fill="#2F4F4F"/>
<rect x="539" y="498" width="1" height="27" fill="#2F4F4F"/>
<rect x="547" y="498" width="1" height="10" fill="#2F4F4F"/>
<rect x="555" y="489" width="1" height="10" fill="#2F4F4F"/>
<rect x="563" y="472" width="1" height="27" fill="#2F4F4F"/>
<rect x="571" y="488" width="1" height="11" fill="#2F4F4F"/>
<rect x="579" y="498" width="1" height="5" fill="#2F4F4F"/>
<rect x="587" y="498" width="1" height="14" fill="#2F4F4F"/>
<rect x="595" y="498" width="1" height="16" fill="#2F4F4F"/>
<rect x="603" y="498" width="1" height="29" fill="#2F4F4F"/>
<rect x="611" y="498" width="1" height="23" fill="#2F4F4F"/>
<rect x="619" y="498" width="1" height="32" fill="#2F4F4F"/>
<rect x="627" y="498" width="1" height="44" fill="#2F4F4F"/>
<rect x="635" y="498" width="1" height="58" fill="#2F4F4F"/>
<rect x="643" y="498" width="1" height="20" fill="#2F4F4F"/>
<rect x="651" y="480" width="1" height="19" fill="#2F4F4F"/>
<rect x="659" y="486" width="1" height="13" fill="#2F4F4F"/>
<rect x="667" y="490" width="1" height="9" fill="#2F4F4F"/>
<rect x="683" y="498" width="1" height="13" fill="#2F4F4F"/>
<rect x="691" y="494" width="1" height="5" fill="#2F4F4F"/>
<rect x="699" y="469" width="1" height="30" fill="#2F4F4F"/>
<rect x="707" y="478" width="1" height="21" fill="#2F4F4F"/>
<rect x="715" y="486" width="1" height="13" fill="#2F4F4F"/>
<rect x="723" y="494" width="1" height="5" fill="#2F4F4F"/>
<rect x="731" y="481" width="1" height="18" fill="#2F4F4F"/>
<rect x="739" y="487" width="1" height="12" fill="#2F4F4F"/>
<rect x="747" y="492" width="1" height="7" fill="#2F4F4F"/>
<rect x="755" y="498" width="1" height="8" fill="#2F4F4F"/>
<rect x="763" y="498" width="1" height="19" fill="#2F4F4F"/>
<rect x="771" y="498" width="1" height="13" fill="#2F4F4F"/>
<rect x="787" y="474" width="1" height="25" fill="#2F4F4F"/>
<rect x="795" y="486" width="1" height="13" fill="#2F4F4F"/>
<rect x="835" y="498" width="1" height="15" fill="#2F4F4F"/>
<rect x="843" y="498" width="1" height="7" fill="#2F4F4F"/>
<rect x="3" y="497" width="1230" height="2" fill="#4169E1"/>
<rect x="3" y="506" width="1230" height="2" fill="#8B008B"/>
<polyline points="3.0,499.8 11.0,499.8 19.0,499.0 27.0,497.0 35.0,499.0 43.0,499.0 51.0,502.3 59.0,506.4 67.0,502.6 75.0,499.8 83.0,485.6 91.0,478.1 99.0,485.6 107.0,487.6 115.0,474.8 123.0,472.6 131.0,496.5 139.0,517.3 147.0,515.6 155.0,506.0 163.0,506.4 171.0,522.3 179.0,516.4 187.0,533.1 195.0,515.6 203.0,487.6 211.0,477.3 219.0,479.3 227.0,492.3 235.0,505.6 243.0,489.8 251.0,497.3 259.0,499.8 267.0,499.0 275.0,490.6 283.0,483.1 291.0,465.6 299.0,484.0 307.0,509.0 315.0,504.8 323.0,502.6 331.0,495.6 339.0,487.3 347.0,489.0 355.0,508.6 363.0,501.5 371.0,487.3 379.0,483.6 387.0,486.5 395.0,489.0 403.0,514.8 411.0,506.4 419.0,497.3 427.0,479.0 435.0,487.3 443.0,509.0 451.0,490.6 459.0,453.2 467.0,502.3 475.0,512.3 483.0,502.3 491.0,538.9 499.0,514.0 507.0,505.6 515.0,515.6 523.0,517.3 531.0,532.3 539.0,524.0 547.0,507.3 555.0,489.0 563.0,472.3 571.0,488.1 579.0,502.3 587.0,510.6 595.0,513.1 603.0,525.6 611.0,519.8 619.0,528.9 627.0,541.4 635.0,554.7 643.0,517.3 651.0,479.8 659.0,485.6 667.0,490.3 675.0,500.6 683.0,509.8 691.0,494.0 699.0,469.0 707.0,478.1 715.0,485.6 723.0,493.6 731.0,481.0 739.0,487.3 747.0,491.5 755.0,504.8 763.0,515.9 771.0,509.9 779.0,500.5 787.0,474.5 795.0,485.7 803.0,501.0 811.0,500.5 819.0,497.6 827.0,498.3 835.0,512.0 843.0,504.4 851.0,500.2" fill="none" stroke="#9ACD32" stroke-width="3" stroke-linejoin="round" shape-rendering="crispEdges"/>
<polyline points="3.0,506.4 11.0,503.1 19.0,500.6 27.0,499.3 35.0,498.1 43.0,498.6 51.0,500.6 59.0,502.6 67.0,503.1 75.0,501.5 83.0,494.8 91.0,488.6 99.0,486.5 107.0,484.8 115.0,481.5 123.0,479.0 131.0,485.6 139.0,496.5 147.0,504.0 155.0,507.0 163.0,508.1 171.0,513.1 179.0,514.8 187.0,521.4 195.0,519.8 203.0,510.5 211.0,497.3 219.0,489.8 227.0,487.3 235.0,492.3 243.0,492.3 251.0,494.8 259.0,497.0 267.0,498.1 275.0,494.8 283.0,492.3 291.0,482.6 299.0,482.6 307.0,489.0 315.0,494.0 323.0,499.8 331.0,500.6 339.0,496.5 347.0,492.3 355.0,497.0 363.0,498.1 371.0,495.6 379.0,491.5 387.0,489.0 395.0,488.6 403.0,497.3 411.0,501.5 419.0,502.0 427.0,495.6 435.0,492.0 443.0,495.3 451.0,493.1 459.0,481.0 467.0,487.6 475.0,494.0 483.0,497.3 491.0,513.1 499.0,516.4 507.0,514.0 515.0,515.3 523.0,516.4 531.0,520.6 539.0,522.0 547.0,518.1 555.0,508.1 563.0,494.0 571.0,488.6 579.0,489.8 587.0,497.3 595.0,504.8 603.0,512.3 611.0,517.3 619.0,522.3 627.0,530.6 635.0,539.3 643.0,534.8 651.0,517.3 659.0,504.8 667.0,497.0 675.0,494.0 683.0,498.1 691.0,498.1 699.0,489.0 707.0,484.3 715.0,483.1 723.0,484.8 731.0,483.1 739.0,484.8 747.0,487.6 755.0,495.6 763.0,502.2 771.0,506.0 779.0,505.5 787.0,495.6 795.0,490.3 803.0,492.0 811.0,494.0 819.0,495.0 827.0,497.2 835.0,503.3 843.0,503.5 851.0,502.2" fill="none" stroke="#FF00FF" stroke-width="3" stroke-linejoin="round" shape-rendering="crispEdges"/>
</g>
<g clip-path="url(#c4)">
<text x="6.5" y="575" font-size="10" fill="#fff" text-anchor="start" textLength="98" lengthAdjust="spacingAndGlyphs" stroke="#fff" stroke-width="0.2">stochRSI 0.0000 2.3051</text>
<polyline points="3.0,644.6 74.9,644.3 90.9,639.6 106.9,634.9 122.9,628.8 130.9,625.9 146.9,623.8 162.9,623.3 178.9,625.4 202.8,626.3 200.0,625.9 237.7,625.9 275.4,622.9 295.5,617.8 308.1,615.3 350.8,606.3 388.5,598.7 426.2,591.2 451.4,585.1 464.0,578.6 489.1,573.6 520.0,570.1 515.1,573.1 532.7,575.1 550.3,576.1 575.4,576.9 600.6,576.9 620.7,575.1 638.3,570.6 663.4,571.8 676.0,575.6 691.1,582.6 706.1,590.7 716.2,595.7 731.3,601.2 765.1,603.5 802.8,603.5 810.4,604.8 828.0,605.5 835.5,606.8 851.9,608.3" fill="none" stroke="#FF00FF" stroke-width="1" stroke-linejoin="round" stroke-dasharray="3 3" shape-rendering="crispEdges"/>
<polyline points="55.0,649.3 74.9,649.9 114.9,651.3 146.9,650.4 162.9,647.9 178.9,642.1 194.8,640.4 202.8,639.6 200.0,639.7 237.7,637.9 262.8,637.2 300.6,637.2 325.7,633.4 350.8,629.6 376.0,623.9 413.7,619.6 451.4,613.8 476.5,609.5 501.7,604.5 520.0,601.2 510.1,600.7 525.1,595.2 540.2,593.2 565.4,591.9 588.0,590.7 610.6,591.9 625.7,597.0 635.7,604.5 650.8,609.5 670.9,614.6 686.0,618.3 701.1,617.1 718.7,612.0 736.3,611.3 740.0,611.4 756.3,612.3 771.4,614.3 777.7,615.6 801.6,616.4 825.5,617.3 833.0,618.6 851.9,619.2" fill="none" stroke="#FF00FF" stroke-width="1" stroke-linejoin="round" stroke-dasharray="3 3" shape-rendering="crispEdges"/>
<polyline points="170.9,650.9 202.8,648.4 200.0,649.8 225.1,644.7 250.3,639.7 270.4,637.9 290.5,641.0 320.7,642.2 340.8,641.5 363.4,637.2 393.6,635.4 421.2,630.9 441.3,625.9 456.4,627.1 476.5,624.6 496.6,619.6 520.0,614.6 537.7,607.0 562.8,602.0 588.0,593.2 600.6,591.2 613.1,591.9 630.7,599.5 643.3,604.5 663.4,609.5 681.0,614.6 696.1,618.3 718.7,620.3 736.3,618.8 740.0,620.0 756.3,618.3 771.4,617.1 787.8,615.2 802.8,615.8 825.5,616.1 835.5,618.1 851.9,619.2" fill="none" stroke="#4169E1" stroke-width="2" stroke-linejoin="round" shape-rendering="crispEdges"/>
<polyline points="3.0,643.3 19.0,641.3 43.0,640.4 51.0,641.3 66.9,642.6 82.9,642.1 98.9,639.6 114.9,634.3 130.9,628.8 146.9,627.1 162.9,624.6 178.9,623.9 202.8,623.9 225.1,624.6 245.2,625.4 275.4,623.9 288.0,619.6 313.1,614.6 350.8,607.0 388.5,599.5 426.2,591.9 451.4,585.7 464.0,579.4 481.5,575.6 501.7,572.6 520.0,570.6 520.1,570.6 540.2,572.6 570.4,574.3 600.6,576.1 620.7,575.6 640.8,571.1 663.4,570.6 683.5,570.6 701.1,572.6 723.7,575.6 741.3,582.6 740.0,581.6 752.6,586.9 765.1,591.9 780.2,598.8 792.8,602.0 812.9,602.6 851.9,603.0" fill="none" stroke="#4169E1" stroke-width="2" stroke-linejoin="round" shape-rendering="crispEdges"/>
<polyline points="447.6,651.0 520.0,649.8 537.7,648.5 575.4,646.5 613.1,644.7 650.8,643.0 688.5,641.5 726.2,640.5 738.8,640.2 740.0,640.3 765.1,639.7 790.3,638.4 815.4,637.4 846.8,637.2 851.9,636.6" fill="none" stroke="#0000FF" stroke-width="3" stroke-linejoin="round" shape-rendering="crispEdges"/>
<polyline points="283.0,634.2 313.1,630.9 350.8,625.4 388.5,619.6 426.2,613.8 464.0,607.8 489.1,604.5 520.0,598.7 525.1,599.5 550.3,595.7 575.4,591.9 600.6,588.7 625.7,586.2 650.8,584.4 676.0,582.6 701.1,581.1 726.2,580.1 738.8,579.9 740.0,580.6 752.6,579.4 782.7,578.4 815.4,577.5 851.9,577.5" fill="none" stroke="#0000FF" stroke-width="3" stroke-linejoin="round" shape-rendering="crispEdges"/>
<polyline points="3.0,652.3 11.0,651.3 43.0,649.6 74.9,647.6 98.9,645.4 130.9,642.9 154.9,640.4 178.9,638.3 202.8,636.3 225.1,634.7 250.3,632.9 283.0,630.9 313.1,627.9 350.8,622.1 388.5,615.3 426.2,608.3 464.0,600.7 489.1,597.0 520.0,592.7 515.1,592.7 532.7,590.7 550.3,588.2 575.4,585.1 600.6,583.6 625.7,585.1 650.8,588.2 676.0,592.7 701.1,596.2 726.2,599.5 738.8,601.2 740.0,601.0 752.6,603.0 765.1,605.1 780.2,608.0 802.8,608.5 819.2,609.8 835.5,611.4 851.9,611.4" fill="none" stroke="#1E90FF" stroke-width="2" stroke-linejoin="round" shape-rendering="crispEdges"/>
<polyline points="3.0,649.9 19.0,648.8 43.0,647.1 74.9,646.6 98.9,644.3 114.9,642.1 130.9,639.6 154.9,635.9 178.9,632.9 202.8,632.6 250.3,632.2 283.0,628.4 313.1,624.6 350.8,618.3 388.5,610.8 426.2,603.2 464.0,595.2 489.1,590.2 520.0,585.1 515.1,586.2 532.7,583.6 562.8,583.1 595.5,583.1 613.1,585.1 630.7,588.2 650.8,591.9 676.0,597.7 701.1,602.7 726.2,605.8 738.8,606.3 740.0,605.8 752.6,607.3 765.1,608.9 802.8,609.3 819.2,610.8 835.5,612.7 851.9,612.9" fill="none" stroke="#FF00FF" stroke-width="2" stroke-linejoin="round" shape-rendering="crispEdges"/>
<polyline points="3.0,574.3 27.0,573.8 43.0,574.7 59.0,575.5 74.9,574.3 90.9,570.0 114.9,567.2 130.9,567.2 138.9,570.5 146.9,572.7 162.9,572.2 170.9,575.5 186.8,580.0 194.8,580.0 202.8,578.3 220.1,576.1 240.2,576.9 262.8,575.6 283.0,571.8 300.6,570.6 320.7,573.1 340.8,570.6 360.9,571.8 381.0,568.6 401.1,569.3 426.2,567.6 458.9,567.6 466.5,576.1 481.5,575.6 491.6,583.1 504.2,580.6 520.0,584.4 515.1,583.1 530.2,590.2 550.3,589.4 565.4,585.7 583.0,589.4 600.6,597.0 610.6,599.5 620.7,607.0 635.7,619.6 653.3,617.1 665.9,623.4 683.5,629.6 706.1,624.6 718.7,630.4 738.8,631.4 740.0,633.4 756.3,641.6 771.4,646.6 787.8,641.6 802.8,645.4 825.5,647.9 851.9,647.9" fill="none" stroke="#FFFF00" stroke-width="3" stroke-linejoin="round" shape-rendering="crispEdges"/>
<polyline points="3.0,574.7 27.0,574.7 43.0,573.3 74.9,573.8 90.9,572.7 106.9,570.0 122.9,568.3 130.9,568.0 138.9,569.3 162.9,570.0 170.9,572.7 186.8,575.5 194.8,577.2 202.8,577.7 220.1,576.1 240.2,575.1 262.8,575.1 283.0,573.1 300.6,571.8 320.7,571.1 340.8,570.6 360.9,570.6 381.0,569.3 401.1,569.3 426.2,568.6 458.9,568.1 476.5,571.1 491.6,574.3 504.2,576.9 520.0,581.9 515.1,580.6 530.2,584.4 550.3,587.7 565.4,586.9 583.0,587.7 600.6,590.7 610.6,594.5 625.7,600.7 640.8,609.5 655.9,614.6 670.9,619.6 686.0,624.6 706.1,625.4 726.2,629.6 738.8,631.2 740.0,630.6 756.3,634.0 771.4,640.3 790.3,642.5 805.4,644.5 828.0,645.7 851.9,647.0" fill="none" stroke="#00EE76" stroke-width="2" stroke-linejoin="round" shape-rendering="crispEdges"/>
</g>
<g clip-path="url(#c5)">
<rect x="2" y="738" width="3" height="35" fill="#0000FF"/>
<rect x="10" y="738" width="3" height="35" fill="#0000FF"/>
<rect x="18" y="738" width="3" height="35" fill="#0000FF"/>
<rect x="26" y="738" width="3" height="35" fill="#0000FF"/>
<rect x="34" y="738" width="3" height="35" fill="#0000FF"/>
<rect x="42" y="739" width="3" height="34" fill="#0000FF"/>
<rect x="50" y="740" width="3" height="33" fill="#0000FF"/>
<rect x="58" y="741" width="3" height="32" fill="#0000FF"/>
<rect x="66" y="742" width="3" height="31" fill="#0000FF"/>
<rect x="74" y="743" width="3" height="30" fill="#0000FF"/>
<rect x="82" y="740" width="3" height="33" fill="#0000FF"/>
<rect x="90" y="736" width="3" height="37" fill="#0000FF"/>
<rect x="98" y="734" width="3" height="39" fill="#0000FF"/>
<rect x="106" y="730" width="3" height="43" fill="#0000FF"/>
<rect x="114" y="725" width="3" height="48" fill="#0000FF"/>
<rect x="122" y="717" width="3" height="56" fill="#0000FF"/>
<rect x="130" y="714" width="3" height="59" fill="#0000FF"/>
<rect x="138" y="715" width="3" height="58" fill="#0000FF"/>
<rect x="146" y="715" width="3" height="58" fill="#0000FF"/>
<rect x="154" y="715" width="3" height="58" fill="#0000FF"/>
<rect x="162" y="715" width="3" height="58" fill="#0000FF"/>
<rect x="170" y="721" width="3" height="52" fill="#0000FF"/>
<rect x="178" y="723" width="3" height="50" fill="#0000FF"/>
<rect x="186" y="732" width="3" height="41" fill="#0000FF"/>
<rect x="194" y="736" width="3" height="37" fill="#0000FF"/>
<rect x="202" y="737" width="3" height="36" fill="#0000FF"/>
<rect x="210" y="737" width="3" height="36" fill="#0000FF"/>
<rect x="218" y="735" width="3" height="38" fill="#0000FF"/>
<rect x="226" y="735" width="3" height="38" fill="#0000FF"/>
<rect x="234" y="736" width="3" height="37" fill="#0000FF"/>
<rect x="242" y="736" width="3" height="37" fill="#0000FF"/>
<rect x="250" y="736" width="3" height="37" fill="#0000FF"/>
<rect x="258" y="736" width="3" height="37" fill="#0000FF"/>
<rect x="266" y="736" width="3" height="37" fill="#0000FF"/>
<rect x="274" y="735" width="3" height="38" fill="#0000FF"/>
<rect x="282" y="732" width="3" height="41" fill="#0000FF"/>
<rect x="290" y="724" width="3" height="49" fill="#0000FF"/>
<rect x="298" y="721" width="3" height="52" fill="#0000FF"/>
<rect x="306" y="720" width="3" height="53" fill="#0000FF"/>
<rect x="314" y="719" width="3" height="54" fill="#0000FF"/>
<rect x="322" y="719" width="3" height="54" fill="#0000FF"/>
<rect x="330" y="716" width="3" height="57" fill="#0000FF"/>
<rect x="338" y="713" width="3" height="60" fill="#0000FF"/>
<rect x="346" y="710" width="3" height="63" fill="#0000FF"/>
<rect x="354" y="710" width="3" height="63" fill="#0000FF"/>
<rect x="362" y="709" width="3" height="64" fill="#0000FF"/>
<rect x="370" y="705" width="3" height="68" fill="#0000FF"/>
<rect x="378" y="701" width="3" height="72" fill="#0000FF"/>
<rect x="386" y="697" width="3" height="76" fill="#0000FF"/>
<rect x="394" y="694" width="3" height="79" fill="#0000FF"/>
<rect x="402" y="694" width="3" height="79" fill="#0000FF"/>
<rect x="410" y="694" width="3" height="79" fill="#0000FF"/>
<rect x="418" y="692" width="3" height="81" fill="#0000FF"/>
<rect x="426" y="688" width="3" height="85" fill="#0000FF"/>
<rect x="434" y="684" width="3" height="89" fill="#0000FF"/>
<rect x="442" y="682" width="3" height="91" fill="#0000FF"/>
<rect x="450" y="679" width="3" height="94" fill="#0000FF"/>
<rect x="458" y="668" width="3" height="105" fill="#0000FF"/>
<rect x="466" y="668" width="3" height="105" fill="#0000FF"/>
<rect x="474" y="666" width="3" height="107" fill="#0000FF"/>
<rect x="482" y="664" width="3" height="109" fill="#0000FF"/>
<rect x="490" y="671" width="3" height="102" fill="#0000FF"/>
<rect x="498" y="673" width="3" height="100" fill="#0000FF"/>
<rect x="506" y="674" width="3" height="99" fill="#0000FF"/>
<rect x="514" y="679" width="3" height="94" fill="#0000FF"/>
<rect x="522" y="685" width="3" height="88" fill="#0000FF"/>
<rect x="530" y="693" width="3" height="80" fill="#0000FF"/>
<rect x="538" y="700" width="3" height="73" fill="#0000FF"/>
<rect x="546" y="703" width="3" height="70" fill="#0000FF"/>
<rect x="554" y="706" width="3" height="67" fill="#0000FF"/>
<rect x="562" y="706" width="3" height="67" fill="#0000FF"/>
<rect x="570" y="707" width="3" height="66" fill="#0000FF"/>
<rect x="578" y="709" width="3" height="64" fill="#0000FF"/>
<rect x="586" y="714" width="3" height="59" fill="#0000FF"/>
<rect x="594" y="720" width="3" height="53" fill="#0000FF"/>
<rect x="602" y="727" width="3" height="46" fill="#0000FF"/>
<rect x="610" y="735" width="3" height="38" fill="#0000FF"/>
<rect x="618" y="745" width="3" height="28" fill="#0000FF"/>
<rect x="626" y="757" width="3" height="16" fill="#0000FF"/>
<rect x="634" y="773" width="3" height="3" fill="#0000FF"/>
<rect x="642" y="773" width="3" height="13" fill="#0000FF"/>
<rect x="650" y="773" width="3" height="17" fill="#0000FF"/>
<rect x="658" y="773" width="3" height="23" fill="#0000FF"/>
<rect x="666" y="773" width="3" height="30" fill="#0000FF"/>
<rect x="674" y="773" width="3" height="36" fill="#0000FF"/>
<rect x="682" y="773" width="3" height="43" fill="#0000FF"/>
<rect x="690" y="773" width="3" height="47" fill="#0000FF"/>
<rect x="698" y="773" width="3" height="46" fill="#0000FF"/>
<rect x="706" y="773" width="3" height="45" fill="#0000FF"/>
<rect x="714" y="773" width="3" height="45" fill="#0000FF"/>
<rect x="722" y="773" width="3" height="45" fill="#0000FF"/>
<rect x="730" y="773" width="3" height="43" fill="#0000FF"/>
<rect x="738" y="773" width="3" height="41" fill="#0000FF"/>
<rect x="746" y="773" width="3" height="41" fill="#0000FF"/>
<rect x="754" y="773" width="3" height="42" fill="#0000FF"/>
<rect x="762" y="773" width="3" height="44" fill="#0000FF"/>
<rect x="770" y="773" width="3" height="46" fill="#0000FF"/>
<rect x="778" y="773" width="3" height="47" fill="#0000FF"/>
<rect x="786" y="773" width="3" height="42" fill="#0000FF"/>
<rect x="794" y="773" width="3" height="42" fill="#0000FF"/>
<rect x="802" y="773" width="3" height="42" fill="#0000FF"/>
<rect x="810" y="773" width="3" height="41" fill="#0000FF"/>
<rect x="818" y="773" width="3" height="40" fill="#0000FF"/>
<rect x="826" y="773" width="3" height="40" fill="#0000FF"/>
<rect x="834" y="773" width="3" height="42" fill="#0000FF"/>
<rect x="842" y="773" width="3" height="42" fill="#0000FF"/>
<rect x="850" y="773" width="3" height="43" fill="#0000FF"/>
<rect x="3" y="773" width="1230" height="1" fill="#FF4500"/>
<polyline points="3.0,814.1 4.2,814.1 28.3,812.7 58.9,814.6 77.8,814.6 94.3,807.6 108.4,796.9 122.6,784.0 132.0,775.7 150.8,773.4 165.0,772.2 179.1,774.6 195.6,776.9 226.3,778.1 243.9,774.6 259.3,775.7 271.0,773.4 282.8,767.5 292.2,762.3 290.0,762.8 313.6,755.2 337.1,744.4 360.7,738.0 384.3,727.9 407.8,718.5 431.4,705.7 455.0,689.7 469.1,681.5 483.3,675.6 502.1,673.2 525.7,675.6 549.3,679.8 572.8,680.8 579.9,680.8 580.0,680.8 610.6,681.5 627.1,674.4 638.9,668.5 655.4,669.7 667.2,675.6 683.7,687.4 697.8,700.3 712.0,715.6 721.4,725.1 730.8,729.8 749.7,732.1 768.5,733.3 792.1,732.1 815.7,735.0 834.5,738.0 852.2,742.7" fill="none" stroke="#FF00FF" stroke-width="1" stroke-linejoin="round" stroke-dasharray="3 3" shape-rendering="crispEdges"/>
<polyline points="146.1,827.6 165.0,817.0 179.1,808.7 188.5,805.2 212.1,803.3 235.7,803.3 259.3,802.8 271.0,802.8 282.8,804.0 292.2,802.8 290.0,802.8 313.6,795.8 337.1,791.1 360.7,781.2 384.3,771.7 407.8,762.8 431.4,755.7 455.0,749.8 478.5,742.7 497.4,735.7 516.3,722.7 535.1,715.6 549.3,709.7 572.8,707.4 579.9,708.1 580.0,708.6 594.1,707.4 610.6,708.6 627.1,722.7 638.9,739.7 650.7,747.5 662.5,753.3 679.0,760.4 693.1,762.3 707.3,758.1 721.4,751.5 740.3,749.8 759.1,751.0 778.0,754.5 796.8,756.9 815.7,756.9 839.3,760.4 852.2,764.7" fill="none" stroke="#FF00FF" stroke-width="1" stroke-linejoin="round" stroke-dasharray="3 3" shape-rendering="crispEdges"/>
<polyline points="38.0,825.5 75.0,824.5 95.0,826.5 115.0,828.0" fill="none" stroke="#FF00FF" stroke-width="1" stroke-linejoin="round" stroke-dasharray="3 3" shape-rendering="crispEdges"/>
<polyline points="174.4,827.6 195.6,825.2 212.1,820.5 231.0,813.4 249.8,805.2 261.6,802.4 271.0,801.0 282.8,802.8 292.2,806.4 290.0,805.2 313.6,807.6 346.6,807.6 367.8,799.3 393.7,796.2 412.6,790.6 431.4,783.5 447.9,777.4 459.7,779.3 478.5,774.6 492.7,766.3 511.5,755.7 535.1,740.4 549.3,734.5 563.4,731.0 579.9,720.3 580.0,720.3 591.8,713.7 610.6,709.7 622.4,714.5 636.6,729.8 650.7,737.3 669.6,745.1 683.7,754.5 693.1,759.9 707.3,762.8 721.4,767.0 733.2,767.0 749.7,763.9 768.5,760.4 782.7,756.2 796.8,755.7 815.7,756.9 829.8,759.2 839.3,762.8 852.2,763.9" fill="none" stroke="#6A5ACD" stroke-width="2" stroke-linejoin="round" shape-rendering="crispEdges"/>
<polyline points="3.0,810.4 4.2,810.4 28.3,807.6 58.9,808.0 77.8,809.4 94.3,805.2 108.4,798.1 122.6,788.7 136.7,781.6 150.8,777.4 169.7,774.6 188.5,774.6 235.7,775.0 259.3,774.6 271.0,773.4 282.8,768.7 292.2,764.7 290.0,766.3 313.6,757.6 337.1,745.1 360.7,739.7 384.3,729.3 407.8,719.9 431.4,707.4 455.0,690.9 469.1,682.6 483.3,676.7 502.1,673.7 518.6,670.9 535.1,673.7 554.0,674.4 572.8,674.4 579.9,675.1 580.0,676.0 610.6,679.8 627.1,676.0 638.9,669.7 662.5,669.7 686.1,672.7 716.7,675.1 726.1,680.3 740.3,690.9 759.1,706.2 778.0,722.7 792.1,729.3 806.3,730.2 820.4,733.3 852.2,733.3" fill="none" stroke="#6A5ACD" stroke-width="2" stroke-linejoin="round" shape-rendering="crispEdges"/>
<polyline points="3.0,738.5 11.0,738.5 19.0,738.5 27.0,738.5 35.0,738.5 43.0,738.5 51.0,738.9 59.0,739.7 67.0,740.8 75.0,741.9 83.0,741.7 91.0,739.8 99.0,736.9 107.0,733.6 115.0,729.9 123.0,724.2 131.0,718.8 139.0,715.3 147.0,714.7 155.0,714.8 163.0,715.1 171.0,717.1 179.0,719.8 187.0,725.2 195.0,730.3 203.0,735.0 211.0,736.7 219.0,736.3 227.0,735.5 235.0,735.2 243.0,735.5 251.0,735.7 259.0,735.7 267.0,735.7 275.0,735.3 283.0,734.2 291.0,730.2 299.0,725.6 307.0,721.5 315.0,720.0 323.0,719.3 331.0,718.0 339.0,715.8 347.0,713.0 355.0,710.8 363.0,709.6 371.0,707.8 379.0,704.8 387.0,700.9 395.0,697.4 403.0,695.2 411.0,694.0 419.0,693.2 427.0,691.1 435.0,688.0 443.0,684.6 451.0,681.8 459.0,676.5 467.0,671.8 475.0,667.3 483.0,665.9 491.0,667.1 499.0,669.4 507.0,672.6 515.0,675.3 523.0,679.5 531.0,686.0 539.0,692.9 547.0,698.9 555.0,703.0 563.0,705.2 571.0,706.3 579.0,707.5 587.0,710.0 595.0,714.3 603.0,720.2 611.0,727.2 619.0,735.5 627.0,745.4 635.0,759.1 643.0,772.8 651.0,783.9 659.0,790.6 667.0,796.3 675.0,802.7 683.0,809.5 691.0,815.2 699.0,818.3 707.0,818.9 715.0,818.3 723.0,818.2 731.0,817.5 739.0,816.3 747.0,814.8 755.0,814.3 763.0,815.2 771.0,817.0 779.0,818.6 787.0,817.9 795.0,816.4 803.0,814.7 811.0,814.4 819.0,813.9 827.0,813.5 835.0,813.8 843.0,814.6 851.0,815.4" fill="none" stroke="#FFA500" stroke-width="1" stroke-linejoin="round" shape-rendering="crispEdges"/>
<polyline points="3.0,738.5 11.0,738.5 19.0,738.5 27.0,738.5 35.0,738.5 43.0,738.6 51.0,739.6 59.0,740.8 67.0,742.1 75.0,742.7 83.0,740.1 91.0,736.4 99.0,734.0 107.0,730.5 115.0,725.3 123.0,716.7 131.0,714.5 139.0,714.7 147.0,714.8 155.0,715.0 163.0,715.4 171.0,720.7 179.0,723.1 187.0,731.6 195.0,736.1 203.0,737.3 211.0,736.6 219.0,735.0 227.0,735.0 235.0,735.7 243.0,735.7 251.0,735.7 259.0,735.7 267.0,735.7 275.0,734.6 283.0,732.4 291.0,723.6 299.0,720.9 307.0,719.9 315.0,719.3 323.0,718.7 331.0,716.1 339.0,712.7 347.0,710.2 355.0,709.6 363.0,709.0 371.0,704.8 379.0,700.6 387.0,697.2 395.0,694.4 403.0,694.0 411.0,693.6 419.0,692.2 427.0,687.6 435.0,684.1 443.0,682.1 451.0,679.3 459.0,668.3 467.0,667.9 475.0,665.7 483.0,664.3 491.0,671.4 499.0,672.6 507.0,673.8 515.0,679.4 523.0,685.3 531.0,693.3 539.0,699.9 547.0,703.4 555.0,705.8 563.0,706.4 571.0,706.6 579.0,709.4 587.0,714.0 595.0,719.7 603.0,726.9 611.0,734.9 619.0,744.7 627.0,756.7 635.0,776.0 643.0,785.6 651.0,790.1 659.0,796.1 667.0,802.7 675.0,809.4 683.0,816.4 691.0,819.8 699.0,818.7 707.0,818.2 715.0,818.2 723.0,818.2 731.0,816.3 739.0,814.3 747.0,813.7 755.0,814.8 763.0,817.1 771.0,819.1 779.0,819.7 787.0,814.9 795.0,814.6 803.0,814.6 811.0,814.0 819.0,813.2 827.0,813.2 835.0,815.1 843.0,815.4 851.0,815.8" fill="none" stroke="#1E90FF" stroke-width="2" stroke-linejoin="round" shape-rendering="crispEdges"/>
<polyline points="463.2,827.6 502.1,825.2 549.3,820.5 579.9,817.7 580.0,818.9 603.6,815.8 638.9,812.3 674.3,810.4 697.8,807.6 733.2,804.7 768.5,802.8 803.9,800.5 827.5,799.3 852.2,798.1" fill="none" stroke="#0000FF" stroke-width="3.4" stroke-linejoin="round" shape-rendering="crispEdges"/>
<polyline points="283.0,793.0 290.0,791.1 313.6,785.2 337.1,779.7 360.7,773.4 384.3,767.5 407.8,760.9 431.4,753.8 455.0,746.3 478.5,738.0 502.1,728.6 525.7,720.8 549.3,714.5 572.8,709.7 579.9,708.6 580.0,707.4 603.6,702.0 627.1,698.0 650.7,695.6 674.3,693.2 697.8,690.9 721.4,688.5 745.0,686.9 768.5,685.5 792.1,683.8 815.7,682.6 839.3,681.5 852.2,681.5" fill="none" stroke="#0000FF" stroke-width="3.4" stroke-linejoin="round" shape-rendering="crispEdges"/>
<polyline points="21.2,827.6 42.4,825.2 58.9,822.2 77.8,818.2 94.3,815.8 113.1,812.3 132.0,808.7 150.8,805.2 169.7,802.4 188.5,800.5 207.4,798.1 226.3,793.4 245.1,791.1 264.0,788.7 282.8,786.8 292.2,785.9 313.6,780.4 337.1,774.6 360.7,768.0 384.3,760.9 407.8,752.2 431.4,744.4 455.0,734.5 478.5,724.6 502.1,715.6 525.7,708.6 549.3,703.4 572.8,698.7 579.9,697.3 580.0,696.8 603.6,695.6 622.4,695.6 641.3,701.5 660.1,706.7 679.0,712.8 697.8,717.5 721.4,722.7 745.0,729.3 768.5,736.8 787.4,741.6 806.3,743.9 829.8,746.3 852.2,748.2" fill="none" stroke="#FF0000" stroke-width="2" stroke-linejoin="round" shape-rendering="crispEdges"/>
<polyline points="3.0,824.0 4.2,824.0 28.3,821.2 58.9,818.2 77.8,817.0 94.3,813.4 113.1,807.6 132.0,802.8 150.8,798.1 165.0,794.6 188.5,793.9 207.4,793.4 226.3,791.5 245.1,789.2 264.0,787.5 282.8,785.2 292.2,782.8 313.6,773.4 337.1,765.6 360.7,758.5 384.3,751.0 407.8,742.7 431.4,733.3 455.0,721.5 478.5,710.9 502.1,702.0 516.3,698.0 535.1,696.3 554.0,694.9 572.8,694.0 579.9,694.2 580.0,695.6 603.6,695.6 622.4,699.1 641.3,707.4 660.1,713.7 679.0,722.7 697.8,731.0 716.7,736.8 733.2,739.7 756.8,741.6 780.3,744.4 803.9,747.5 827.5,750.5 852.2,752.9" fill="none" stroke="#FF00FF" stroke-width="2" stroke-linejoin="round" shape-rendering="crispEdges"/>
<polyline points="3.0,821.2 4.2,821.2 28.3,818.2 58.9,817.0 75.4,816.5 94.3,811.1 113.1,804.0 127.3,798.1 141.4,794.6 155.6,791.1 172.0,790.6 188.5,791.5 207.4,791.1 226.3,789.9 245.1,787.5 264.0,784.5 282.8,780.4 292.2,775.7 313.6,768.7 337.1,760.9 360.7,755.2 384.3,745.1 407.8,736.8 431.4,726.2 443.2,722.7 459.7,710.9 478.5,702.7 497.4,696.8 506.8,694.9 525.7,694.9 544.5,696.3 563.4,695.6 577.5,694.4 580.0,693.2 603.6,695.6 615.4,698.0 627.1,705.0 641.3,714.5 660.1,722.7 674.3,729.8 686.1,735.7 702.6,739.7 721.4,741.1 745.0,742.7 768.5,745.8 792.1,748.2 815.7,751.0 839.3,754.5 852.2,755.7" fill="none" stroke="#FFFF00" stroke-width="2" stroke-linejoin="round" shape-rendering="crispEdges"/>
<polyline points="3.0,818.9 4.2,818.9 14.1,818.2 28.3,815.1 42.4,814.1 58.9,818.2 75.4,814.6 90.7,800.0 100.2,801.7 110.8,791.1 122.6,779.3 132.0,786.3 141.4,790.6 155.6,784.5 162.6,786.3 172.0,795.3 179.6,791.5 187.4,808.7 195.6,798.6 207.4,787.5 219.2,782.1 235.7,788.7 243.9,779.3 252.2,784.0 259.3,781.6 267.5,781.2 275.7,774.6 282.8,769.8 292.2,753.8 297.1,761.6 306.5,765.1 315.9,760.9 323.0,762.8 332.4,752.2 346.6,746.3 354.8,753.8 367.8,742.7 379.6,733.3 393.7,725.1 403.6,735.7 412.6,726.2 418.4,723.9 429.1,708.1 443.2,715.2 452.6,694.4 459.7,675.1 467.9,700.3 476.2,689.7 483.3,686.2 491.5,707.4 499.8,687.4 509.2,692.5 523.3,695.6 532.8,707.4 546.9,701.5 563.4,682.6 571.6,688.5 579.9,689.7 594.1,695.6 603.6,705.0 610.6,703.4 620.1,720.3 635.4,746.7 651.9,727.9 660.1,735.0 667.2,735.7 683.7,751.5 691.9,745.1 700.2,736.4 708.4,741.6 715.5,740.4 723.8,745.1 732.0,736.4 740.3,741.1 746.2,740.4 756.8,751.0 768.5,755.2 778.0,753.3 787.4,741.6 796.8,751.0 806.3,753.8 820.4,752.9 827.5,755.7 836.9,764.7 844.0,759.2 852.2,763.2" fill="none" stroke="#00EE76" stroke-width="3" stroke-linejoin="round" shape-rendering="crispEdges"/>
</g>
<rect x="2" y="6" width="1232" height="1" fill="#ffffff"/>
<rect x="2" y="325" width="1232" height="1" fill="#ffffff"/>
<rect x="2" y="6" width="1" height="320" fill="#ffffff"/>
<rect x="2" y="327" width="1232" height="1" fill="#ffffff"/>
<rect x="2" y="444" width="1232" height="1" fill="#ffffff"/>
<rect x="2" y="327" width="1" height="118" fill="#ffffff"/>
<rect x="2" y="446" width="1232" height="1" fill="#ffffff"/>
<rect x="2" y="560" width="1232" height="1" fill="#ffffff"/>
<rect x="2" y="446" width="1" height="115" fill="#ffffff"/>
<rect x="2" y="562" width="1232" height="1" fill="#ffffff"/>
<rect x="2" y="652" width="1232" height="1" fill="#ffffff"/>
<rect x="2" y="562" width="1" height="91" fill="#ffffff"/>
<rect x="2" y="654" width="1232" height="1" fill="#ffffff"/>
<rect x="2" y="828" width="1232" height="1" fill="#ffffff"/>
<rect x="2" y="654" width="1" height="175" fill="#ffffff"/>
<rect x="1233" y="6" width="1" height="823" fill="#ffffff"/>
<rect x="1234" y="25" width="2" height="1" fill="#ffffff"/>
<text x="1239.7" y="28" font-size="10" fill="#fff" text-anchor="start" textLength="32.4" lengthAdjust="spacingAndGlyphs" stroke="#fff" stroke-width="0.2">1906.30</text>
<rect x="1234" y="58" width="2" height="1" fill="#ffffff"/>
<text x="1239.7" y="61" font-size="10" fill="#fff" text-anchor="start" textLength="32.4" lengthAdjust="spacingAndGlyphs" stroke="#fff" stroke-width="0.2">1761.10</text>
<rect x="1234" y="91" width="2" height="1" fill="#ffffff"/>
<text x="1239.7" y="94" font-size="10" fill="#fff" text-anchor="start" textLength="32.4" lengthAdjust="spacingAndGlyphs" stroke="#fff" stroke-width="0.2">1611.50</text>
<rect x="1234" y="124" width="2" height="1" fill="#ffffff"/>
<text x="1239.7" y="127" font-size="10" fill="#fff" text-anchor="start" textLength="32.4" lengthAdjust="spacingAndGlyphs" stroke="#fff" stroke-width="0.2">1466.30</text>
<rect x="1234" y="157" width="2" height="1" fill="#ffffff"/>
<text x="1239.7" y="160" font-size="10" fill="#fff" text-anchor="start" textLength="32.4" lengthAdjust="spacingAndGlyphs" stroke="#fff" stroke-width="0.2">1316.70</text>
<rect x="1234" y="190" width="2" height="1" fill="#ffffff"/>
<text x="1239.7" y="193" font-size="10" fill="#fff" text-anchor="start" textLength="32.4" lengthAdjust="spacingAndGlyphs" stroke="#fff" stroke-width="0.2">1171.50</text>
<rect x="1234" y="223" width="2" height="1" fill="#ffffff"/>
<text x="1239.7" y="226" font-size="10" fill="#fff" text-anchor="start" textLength="32.4" lengthAdjust="spacingAndGlyphs" stroke="#fff" stroke-width="0.2">1021.90</text>
<rect x="1234" y="256" width="2" height="1" fill="#ffffff"/>
<text x="1239.7" y="259" font-size="10" fill="#fff" text-anchor="start" textLength="27.3" lengthAdjust="spacingAndGlyphs" stroke="#fff" stroke-width="0.2">876.70</text>
<rect x="1234" y="289" width="2" height="1" fill="#ffffff"/>
<text x="1239.7" y="292" font-size="10" fill="#fff" text-anchor="start" textLength="27.3" lengthAdjust="spacingAndGlyphs" stroke="#fff" stroke-width="0.2">727.10</text>
<rect x="1234" y="322" width="2" height="1" fill="#ffffff"/>
<text x="1239.7" y="325" font-size="10" fill="#fff" text-anchor="start" textLength="27.3" lengthAdjust="spacingAndGlyphs" stroke="#fff" stroke-width="0.2">581.90</text>
<rect x="1236" y="199" width="37" height="11" fill="#ffffff"/>
<text x="1239.7" y="208" font-size="10" fill="#000" text-anchor="start" textLength="32.4" lengthAdjust="spacingAndGlyphs" stroke="#000" stroke-width="0.2">1104.48</text>
<text x="1237.8" y="338" font-size="10" fill="#fff" text-anchor="start" textLength="14.1" lengthAdjust="spacingAndGlyphs" stroke="#fff" stroke-width="0.2">100</text>
<rect x="1234" y="329" width="1" height="1" fill="#ffffff"/>
<text x="1236.3" y="410" font-size="10" fill="#fff" text-anchor="start" textLength="9" lengthAdjust="spacingAndGlyphs" stroke="#fff" stroke-width="0.2">32</text>
<text x="1237.8" y="441" font-size="10" fill="#fff" text-anchor="start" textLength="3.9" lengthAdjust="spacingAndGlyphs" stroke="#fff" stroke-width="0.2">0</text>
<rect x="1234" y="443" width="1" height="1" fill="#ffffff"/>
<text x="1237" y="457" font-size="10" fill="#fff" text-anchor="start" textLength="22.2" lengthAdjust="spacingAndGlyphs" stroke="#fff" stroke-width="0.2">0.629</text>
<rect x="1234" y="448" width="1" height="1" fill="#ffffff"/>
<text x="1237" y="557" font-size="10" fill="#fff" text-anchor="start" textLength="25.2" lengthAdjust="spacingAndGlyphs" stroke="#fff" stroke-width="0.2">-0.554</text>
<rect x="1234" y="559" width="1" height="1" fill="#ffffff"/>
<rect x="1236" y="492" width="5" height="11" fill="#4169E1"/>
<rect x="1236" y="503" width="5" height="10" fill="#8B008B"/>
<text x="1237" y="501" font-size="10" fill="#000" text-anchor="start" textLength="3.9" lengthAdjust="spacingAndGlyphs" stroke="#000" stroke-width="0.2">0</text>
<text x="1237" y="510" font-size="10" fill="#fff" text-anchor="start" textLength="17.1" lengthAdjust="spacingAndGlyphs" stroke="#fff" stroke-width="0.2">0.00</text>
<text x="1237.8" y="573" font-size="10" fill="#fff" text-anchor="start" textLength="14.1" lengthAdjust="spacingAndGlyphs" stroke="#fff" stroke-width="0.2">105</text>
<rect x="1234" y="564" width="1" height="1" fill="#ffffff"/>
<rect x="1234" y="647" width="1" height="1" fill="#ffffff"/>
<rect x="1234" y="651" width="1" height="1" fill="#ffffff"/>
<text x="1237" y="650" font-size="10" fill="#fff" text-anchor="start" textLength="17.1" lengthAdjust="spacingAndGlyphs" stroke="#fff" stroke-width="0.2">0.00</text>
<text x="1240.5" y="650" font-size="10" fill="#fff" text-anchor="start" textLength="3.9" lengthAdjust="spacingAndGlyphs" stroke="#fff" stroke-width="0.2">5</text>
<rect x="1236" y="767" width="5" height="12" fill="#FF4500"/>
<text x="1237" y="777" font-size="10" fill="#000" text-anchor="start" textLength="3.9" lengthAdjust="spacingAndGlyphs" stroke="#000" stroke-width="0.2">0</text>
<rect x="3" y="829" width="1" height="3" fill="#ffffff"/>
<text x="3" y="841" font-size="10" fill="#fff" text-anchor="start" textLength="47.5" lengthAdjust="spacingAndGlyphs" stroke="#fff" stroke-width="0.2">1 Nov 2006</text>
<rect x="67" y="829" width="1" height="3" fill="#ffffff"/>
<text x="67" y="841" font-size="10" fill="#fff" text-anchor="start" textLength="40.5" lengthAdjust="spacingAndGlyphs" stroke="#fff" stroke-width="0.2">1 Jul 2007</text>
<rect x="131" y="829" width="1" height="3" fill="#ffffff"/>
<text x="131" y="841" font-size="10" fill="#fff" text-anchor="start" textLength="45.3" lengthAdjust="spacingAndGlyphs" stroke="#fff" stroke-width="0.2">1 Mar 2008</text>
<rect x="195" y="829" width="1" height="3" fill="#ffffff"/>
<text x="195" y="841" font-size="10" fill="#fff" text-anchor="start" textLength="47.5" lengthAdjust="spacingAndGlyphs" stroke="#fff" stroke-width="0.2">1 Nov 2008</text>
<rect x="259" y="829" width="1" height="3" fill="#ffffff"/>
<text x="259" y="841" font-size="10" fill="#fff" text-anchor="start" textLength="40.5" lengthAdjust="spacingAndGlyphs" stroke="#fff" stroke-width="0.2">1 Jul 2009</text>
<rect x="323" y="829" width="1" height="3" fill="#ffffff"/>
<text x="323" y="841" font-size="10" fill="#fff" text-anchor="start" textLength="45.3" lengthAdjust="spacingAndGlyphs" stroke="#fff" stroke-width="0.2">1 Mar 2010</text>
<rect x="387" y="829" width="1" height="3" fill="#ffffff"/>
<text x="387" y="841" font-size="10" fill="#fff" text-anchor="start" textLength="47.5" lengthAdjust="spacingAndGlyphs" stroke="#fff" stroke-width="0.2">1 Nov 2010</text>
<rect x="451" y="829" width="1" height="3" fill="#ffffff"/>
<text x="451" y="841" font-size="10" fill="#fff" text-anchor="start" textLength="40.5" lengthAdjust="spacingAndGlyphs" stroke="#fff" stroke-width="0.2">1 Jul 2011</text>
<rect x="515" y="829" width="1" height="3" fill="#ffffff"/>
<text x="515" y="841" font-size="10" fill="#fff" text-anchor="start" textLength="45.3" lengthAdjust="spacingAndGlyphs" stroke="#fff" stroke-width="0.2">1 Mar 2012</text>
<rect x="579" y="829" width="1" height="3" fill="#ffffff"/>
<text x="579" y="841" font-size="10" fill="#fff" text-anchor="start" textLength="47.5" lengthAdjust="spacingAndGlyphs" stroke="#fff" stroke-width="0.2">1 Nov 2012</text>
<rect x="643" y="829" width="1" height="3" fill="#ffffff"/>
<text x="643" y="841" font-size="10" fill="#fff" text-anchor="start" textLength="40.5" lengthAdjust="spacingAndGlyphs" stroke="#fff" stroke-width="0.2">1 Jul 2013</text>
<rect x="707" y="829" width="1" height="3" fill="#ffffff"/>
<text x="707" y="841" font-size="10" fill="#fff" text-anchor="start" textLength="45.3" lengthAdjust="spacingAndGlyphs" stroke="#fff" stroke-width="0.2">1 Mar 2014</text>
<rect x="771" y="829" width="1" height="3" fill="#ffffff"/>
<text x="771" y="841" font-size="10" fill="#fff" text-anchor="start" textLength="47.5" lengthAdjust="spacingAndGlyphs" stroke="#fff" stroke-width="0.2">1 Nov 2014</text>
<rect x="835" y="829" width="1" height="3" fill="#ffffff"/>
<text x="835" y="841" font-size="10" fill="#fff" text-anchor="start" textLength="40.5" lengthAdjust="spacingAndGlyphs" stroke="#fff" stroke-width="0.2">1 Jul 2015</text>
<polygon points="5,13 13,13 9,17" fill="#fff" shape-rendering="crispEdges"/>
<text x="18" y="18" font-size="10" fill="#fff" text-anchor="start" textLength="61.5" lengthAdjust="spacingAndGlyphs" stroke="#fff" stroke-width="0.2">GOLD,Monthly</text>
<polygon points="858,7 868,7 863,12" fill="#708090" shape-rendering="crispEdges"/>
<polygon points="3,823 3,828 8,828" fill="#708090" shape-rendering="crispEdges"/>
</svg>
</body></html>
